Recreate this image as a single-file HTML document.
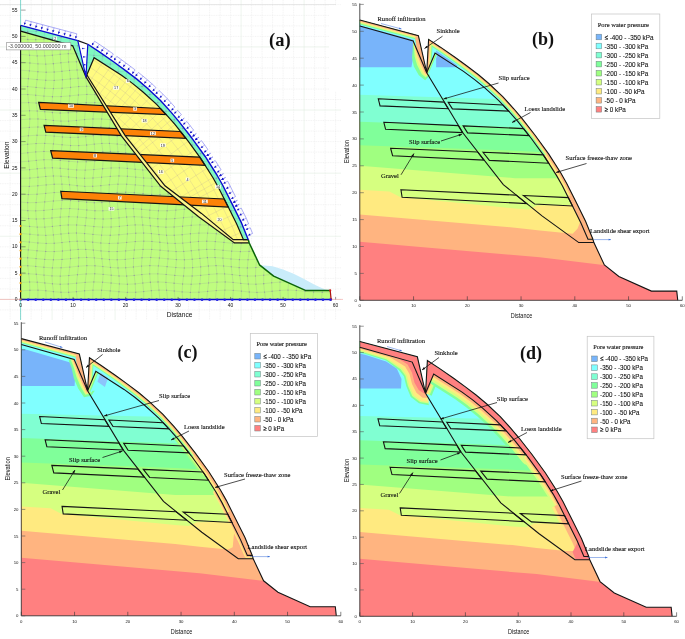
<!DOCTYPE html>
<html><head><meta charset="utf-8"><title>Slope model</title>
<style>html,body{margin:0;padding:0;background:#fff}svg{display:block;will-change:transform}</style></head>
<body><svg width="685" height="639" viewBox="0 0 685 639">
<rect width="685" height="639" fill="#fff"/>
<defs><filter id="gs" x="0" y="0" width="100%" height="100%" filterUnits="userSpaceOnUse"><feOffset dx="0" dy="0"/></filter></defs>
<g filter="url(#gs)">
<g id="pa">
<g stroke="#e7e7e7" stroke-width="0.5" stroke-dasharray="1 0.7">
<path d="M10.10 0 V320"/>
<path d="M20.60 0 V320"/>
<path d="M31.10 0 V320"/>
<path d="M41.60 0 V320"/>
<path d="M62.60 0 V320"/>
<path d="M73.10 0 V320"/>
<path d="M83.60 0 V320"/>
<path d="M94.10 0 V320"/>
<path d="M104.60 0 V320"/>
<path d="M125.60 0 V320"/>
<path d="M136.10 0 V320"/>
<path d="M146.60 0 V320"/>
<path d="M157.10 0 V320"/>
<path d="M167.60 0 V320"/>
<path d="M188.60 0 V320"/>
<path d="M199.10 0 V320"/>
<path d="M209.60 0 V320"/>
<path d="M220.10 0 V320"/>
<path d="M230.60 0 V320"/>
<path d="M251.60 0 V320"/>
<path d="M262.10 0 V320"/>
<path d="M272.60 0 V320"/>
<path d="M283.10 0 V320"/>
<path d="M293.60 0 V320"/>
<path d="M314.60 0 V320"/>
<path d="M325.10 0 V320"/>
<path d="M335.60 0 V320"/>
<path d="M0 309.92 H341"/>
<path d="M0 288.88 H341"/>
<path d="M0 278.36 H341"/>
<path d="M0 267.84 H341"/>
<path d="M0 257.32 H341"/>
<path d="M0 246.80 H341"/>
<path d="M0 225.76 H341"/>
<path d="M0 215.24 H341"/>
<path d="M0 204.72 H341"/>
<path d="M0 194.20 H341"/>
<path d="M0 183.68 H341"/>
<path d="M0 162.64 H341"/>
<path d="M0 152.12 H341"/>
<path d="M0 141.60 H341"/>
<path d="M0 131.08 H341"/>
<path d="M0 120.56 H341"/>
<path d="M0 99.52 H341"/>
<path d="M0 89.00 H341"/>
<path d="M0 78.48 H341"/>
<path d="M0 67.96 H341"/>
<path d="M0 57.44 H341"/>
<path d="M0 36.40 H341"/>
<path d="M0 25.88 H341"/>
<path d="M0 15.36 H341"/>
<path d="M0 4.84 H341"/>
</g>
<g stroke="#e0ece0" stroke-width="0.6">
<path d="M52.10 0 V320"/>
<path d="M115.10 0 V320"/>
<path d="M178.10 0 V320"/>
<path d="M241.10 0 V320"/>
<path d="M304.10 0 V320"/>
<path d="M0 299.40 H341"/>
<path d="M0 236.28 H341"/>
<path d="M0 173.16 H341"/>
<path d="M0 110.04 H341"/>
<path d="M0 46.92 H341"/>
</g>
<path d="M0 4.6 H336" stroke="#d8d8d8" stroke-width="0.6"/>
<rect x="329" y="5.2" width="14" height="86" fill="#fff"/>
<clipPath id="csa"><path d="M20.60 25.35 L77.83 40.61 L85.96 76.90 L87.80 44.29 L99.35 51.92 L113.89 62.02 L125.60 70.59 L136.52 78.90 L146.60 87.42 L160.25 100.31 L171.01 112.14 L178.78 121.35 L192.01 138.29 L205.19 156.49 L216.95 175.00 L222.72 185.26 L232.07 203.88 L241.10 222.08 L248.29 239.70 L249.24 242.96 L259.48 264.79 L273.65 276.10 L305.41 290.41 L330.19 290.41 L331.14 299.40 L20.60 299.40 Z"/></clipPath>
<path d="M261.05 265.21 L272.60 266.26 L283.10 269.42 L293.60 273.63 L304.10 278.89 L314.60 284.67 L325.10 289.41 L330.19 290.41 L305.41 290.41 L273.65 276.10 L259.48 264.79 Z" fill="#c9ecfa"/>
<path d="M20.60 25.35 L77.83 40.61 L85.96 76.90 L87.80 44.29 L99.35 51.92 L113.89 62.02 L125.60 70.59 L136.52 78.90 L146.60 87.42 L160.25 100.31 L171.01 112.14 L178.78 121.35 L192.01 138.29 L205.19 156.49 L216.95 175.00 L222.72 185.26 L232.07 203.88 L241.10 222.08 L248.29 239.70 L249.24 242.96 L259.48 264.79 L273.65 276.10 L305.41 290.41 L330.19 290.41 L331.14 299.40 L20.60 299.40 Z" fill="#bffd7f"/>
<path d="M86.75 74.80 L125.34 135.81 L164.97 185.78 L201.46 213.40 L233.22 239.70 L243.46 239.70 L236.70 224.08 L227.75 206.04 L218.45 187.51 L212.83 177.52 L201.20 159.21 L188.15 141.20 L174.93 124.45 L167.14 115.57 L156.36 104.16 L142.73 91.73 L132.77 83.60 L121.89 75.58 L94.10 57.70 Z" fill="#fffb80"/>
<path d="M85.96 76.90 L121.40 135.81 L160.77 186.31 L198.57 216.82 L234.49 242.96 L249.24 242.96 L248.29 239.70 L233.22 239.70 L201.46 213.40 L164.97 185.78 L125.34 135.81 L86.75 74.80 Z" fill="#fdf78c"/>
<path d="M20.60 25.35 L77.83 40.61 L85.96 76.90 L72.73 45.87 L20.60 31.14 Z" fill="#80f8c0"/>
<path d="M85.96 76.90 L87.80 44.29 L99.35 51.92 L113.89 62.02 L125.60 70.59 L136.52 78.90 L146.60 87.42 L160.25 100.31 L171.01 112.14 L178.78 121.35 L192.01 138.29 L205.19 156.49 L216.95 175.00 L222.72 185.26 L232.07 203.88 L241.10 222.08 L248.29 239.70 L248.29 239.70 L243.46 239.70 L236.70 224.08 L227.75 206.04 L218.45 187.51 L212.83 177.52 L201.20 159.21 L188.15 141.20 L174.93 124.45 L167.14 115.57 L156.36 104.16 L142.73 91.73 L132.77 83.60 L121.89 75.58 L94.10 57.70 Z" fill="#80f8c0"/>
<path d="M77.83 40.61 L85.96 76.90 L87.80 44.29 Z" fill="#fff"/>
<marker id="nd" markerWidth="2" markerHeight="2" refX="1" refY="1" markerUnits="userSpaceOnUse"><circle cx="1" cy="1" r="0.7" fill="#7a60b0" fill-opacity="0.4"/></marker>
<g stroke="#8068b4" stroke-opacity="0.3" stroke-width="0.5" fill="none" clip-path="url(#csa)">
<path d="M20.60 299.40 L29.29 299.40 L37.85 299.40 L46.16 299.40 L54.20 299.40 L61.98 299.40 L69.59 299.40 L77.16 299.40 L84.83 299.40 L92.71 299.40 L100.87 299.40 L109.30 299.40 L117.93 299.40 L126.64 299.40 L135.28 299.40 L143.75 299.40 L151.94 299.40 L159.86 299.40 L167.55 299.40 L175.13 299.40 L182.72 299.40 L190.47 299.40 L198.47 299.40 L206.75 299.40 L215.28 299.40 L223.96 299.40 L232.66 299.40 L241.24 299.40 L249.59 299.40 L257.67 299.40 L265.48 299.40 L273.10 299.40 L280.67 299.40 L288.32 299.40 L296.16 299.40 L304.29 299.40 L312.68 299.40 L321.29 299.40 L330.00 299.40 L337.96 299.40" marker-mid="url(#nd)"/>
<path d="M20.60 290.91 L29.88 290.22 L37.97 290.15 L45.79 290.75 L53.43 291.65 L60.99 292.31 L68.63 292.32 L76.46 291.68 L84.57 290.78 L92.94 290.16 L101.54 290.20 L110.25 290.88 L118.92 291.78 L127.43 292.35 L135.68 292.26 L143.65 291.55 L151.38 290.66 L158.97 290.12 L166.55 290.27 L174.26 291.01 L182.20 291.89 L190.43 292.39 L198.91 292.19 L207.57 291.42 L216.28 290.55 L224.89 290.10 L233.30 290.35 L241.43 291.14 L249.28 292.00 L256.94 292.40 L264.50 292.10 L272.13 291.28 L279.93 290.44 L287.99 290.09 L296.34 290.44 L304.91 291.28 L313.61 292.10 L322.29 292.40 L330.83 292.01 L337.96 291.15" marker-mid="url(#nd)"/>
<path d="M20.60 282.44 L29.60 281.95 L37.26 282.16 L44.83 282.93 L52.44 283.80 L60.23 284.24 L68.27 283.99 L76.60 283.19 L85.16 282.33 L93.86 281.94 L102.55 282.24 L111.09 283.07 L119.40 283.90 L127.43 284.25 L135.20 283.90 L142.81 283.06 L150.38 282.24 L158.05 281.94 L165.94 282.34 L174.11 283.20 L182.55 283.99 L191.18 284.24 L199.89 283.79 L208.54 282.92 L216.99 282.15 L225.18 281.96 L233.09 282.45 L240.77 283.33 L248.34 284.07 L255.94 284.22 L263.70 283.68 L271.71 282.79 L280.00 282.08 L288.53 281.99 L297.22 282.57 L305.92 283.46 L314.49 284.14 L322.83 284.18 L330.90 283.56 L337.96 282.66" marker-mid="url(#nd)"/>
<path d="M20.60 274.03 L28.67 273.79 L36.26 274.25 L44.01 275.12 L52.00 275.89 L60.27 276.08 L68.79 275.58 L77.47 274.69 L86.17 273.96 L94.75 273.82 L103.12 274.36 L111.20 275.26 L119.02 275.96 L126.64 276.04 L134.21 275.46 L141.85 274.56 L149.70 273.89 L157.81 273.86 L166.19 274.48 L174.80 275.38 L183.50 276.02 L192.17 276.00 L200.67 275.34 L208.92 274.44 L216.88 273.84 L224.60 273.91 L232.18 274.61 L239.77 275.50 L247.48 276.06 L255.44 275.93 L263.67 275.21 L272.16 274.32 L280.83 273.81 L289.53 273.98 L298.14 274.74 L306.54 275.62 L314.66 276.09 L322.51 275.86 L330.16 275.07 L337.96 274.21" marker-mid="url(#nd)"/>
<path d="M20.60 265.71 L27.79 265.74 L35.73 266.40 L43.94 267.30 L52.42 267.89 L61.08 267.81 L69.78 267.11 L78.40 266.22 L86.82 265.67 L94.96 265.80 L102.82 266.53 L110.48 267.42 L118.05 267.92 L125.67 267.74 L133.46 266.98 L141.51 266.10 L149.85 265.64 L158.42 265.88 L167.11 266.66 L175.80 267.53 L184.34 267.94 L192.64 267.66 L200.66 266.85 L208.42 266.00 L216.02 265.63 L223.60 265.97 L231.28 266.80 L239.18 267.63 L247.35 267.94 L255.80 267.56 L264.44 266.71 L273.15 265.91 L281.79 265.64 L290.23 266.07 L298.41 266.93 L306.31 267.71 L313.99 267.93 L321.56 267.46 L329.16 266.58 L337.96 265.82" marker-mid="url(#nd)"/>
<path d="M20.60 257.48 L27.63 257.77 L36.06 258.59 L44.69 259.43 L53.40 259.79 L62.05 259.45 L70.51 258.62 L78.71 257.79 L86.62 257.48 L94.31 257.87 L101.89 258.72 L109.48 259.52 L117.23 259.79 L125.23 259.35 L133.51 258.48 L142.04 257.70 L150.72 257.49 L159.42 257.97 L168.00 258.86 L176.36 259.60 L184.43 259.76 L192.24 259.24 L199.86 258.35 L207.43 257.63 L215.08 257.52 L222.93 258.09 L231.05 258.99 L239.45 259.67 L248.05 259.73 L256.76 259.12 L265.42 258.22 L273.92 257.57 L282.15 257.57 L290.10 258.21 L297.82 259.11 L305.40 259.72 L312.99 259.67 L320.71 258.99 L328.67 258.10 L337.96 257.53" marker-mid="url(#nd)"/>
<path d="M20.60 249.36 L28.31 249.89 L37.01 250.78 L45.68 251.49 L54.19 251.59 L62.44 251.02 L70.41 250.12 L78.14 249.44 L85.73 249.39 L93.31 250.01 L101.02 250.91 L108.96 251.55 L117.19 251.55 L125.67 250.90 L134.33 250.00 L143.04 249.39 L151.66 249.45 L160.06 250.13 L168.19 251.03 L176.05 251.59 L183.70 251.49 L191.27 250.77 L198.89 249.88 L206.69 249.35 L214.75 249.51 L223.10 250.26 L231.67 251.14 L240.37 251.62 L249.05 251.41 L257.59 250.64 L265.88 249.77 L273.89 249.33 L281.64 249.59 L289.24 250.40 L296.82 251.25 L304.50 251.64 L312.41 251.32 L320.60 250.50 L329.05 249.66 L337.96 249.32" marker-mid="url(#nd)"/>
<path d="M20.60 241.33 L29.31 242.05 L37.86 242.94 L46.17 243.46 L54.19 243.29 L61.96 242.54 L69.57 241.66 L77.14 241.19 L84.81 241.40 L92.70 242.18 L100.87 243.05 L109.31 243.48 L117.95 243.21 L126.65 242.41 L135.30 241.55 L143.75 241.17 L151.94 241.49 L159.85 242.32 L167.53 243.15 L175.11 243.49 L182.71 243.12 L190.46 242.27 L198.47 241.46 L206.76 241.18 L215.30 241.59 L223.98 242.45 L232.68 243.24 L241.25 243.48 L249.60 243.01 L257.66 242.14 L265.46 241.38 L273.08 241.19 L280.65 241.70 L288.30 242.59 L296.16 243.32 L304.29 243.45 L312.70 242.90 L321.31 242.00 L330.02 241.31 L337.96 241.23" marker-mid="url(#nd)"/>
<path d="M20.60 233.39 L29.88 234.24 L37.96 235.05 L45.78 235.33 L53.41 234.91 L60.97 234.04 L68.62 233.26 L76.46 233.03 L84.57 233.50 L92.96 234.38 L101.56 235.13 L110.27 235.31 L118.93 234.80 L127.43 233.91 L135.68 233.18 L143.64 233.06 L151.36 233.61 L158.95 234.51 L166.53 235.20 L174.25 235.27 L182.20 234.68 L190.43 233.78 L198.93 233.12 L207.59 233.10 L216.30 233.73 L224.91 234.64 L233.30 235.26 L241.42 235.22 L249.27 234.55 L256.92 233.65 L264.49 233.07 L272.11 233.16 L279.92 233.86 L287.99 234.76 L296.35 235.30 L304.93 235.16 L313.63 234.42 L322.31 233.54 L330.84 233.04 L337.96 233.23" marker-mid="url(#nd)"/>
<path d="M20.60 225.53 L29.59 226.43 L37.24 227.08 L44.81 227.09 L52.43 226.46 L60.22 225.55 L68.28 224.94 L76.61 224.98 L85.18 225.65 L93.88 226.55 L102.56 227.13 L111.10 227.04 L119.40 226.33 L127.42 225.43 L135.18 224.90 L142.79 225.04 L150.36 225.78 L158.04 226.67 L165.94 227.16 L174.12 226.96 L182.56 226.20 L191.20 225.32 L199.91 224.87 L208.55 225.12 L217.00 225.92 L225.17 226.78 L233.07 227.18 L240.75 226.88 L248.32 226.06 L255.93 225.22 L263.69 224.87 L271.71 225.21 L280.01 226.05 L288.55 226.87 L297.24 227.18 L305.93 226.78 L314.50 225.93 L322.84 225.13 L330.89 224.87 L337.96 225.32" marker-mid="url(#nd)"/>
<path d="M20.60 217.71 L28.65 218.58 L36.25 219.02 L44.00 218.76 L52.00 217.97 L60.28 217.11 L68.81 216.71 L77.49 217.02 L86.19 217.84 L94.77 218.68 L103.12 219.03 L111.19 218.67 L119.00 217.83 L126.63 217.01 L134.19 216.72 L141.84 217.12 L149.69 217.98 L157.81 218.77 L166.21 219.02 L174.82 218.57 L183.52 217.70 L192.19 216.93 L200.68 216.73 L208.91 217.23 L216.87 218.11 L224.58 218.85 L232.16 218.99 L239.75 218.46 L247.47 217.56 L255.43 216.86 L263.68 216.76 L272.18 217.34 L280.85 218.24 L289.55 218.91 L298.16 218.96 L306.54 218.34 L314.65 217.44 L322.50 216.80 L330.14 216.81 L337.96 217.47" marker-mid="url(#nd)"/>
<path d="M20.60 209.90 L27.78 210.66 L35.73 210.85 L43.95 210.35 L52.44 209.47 L61.10 208.73 L69.80 208.59 L78.42 209.14 L86.82 210.03 L94.95 210.73 L102.81 210.82 L110.46 210.24 L118.03 209.34 L125.65 208.67 L133.45 208.64 L141.52 209.26 L149.86 210.16 L158.44 210.79 L167.13 210.77 L175.82 210.11 L184.35 209.21 L192.64 208.62 L200.65 208.69 L208.41 209.38 L216.01 210.28 L223.58 210.83 L231.26 210.71 L239.17 209.98 L247.36 209.10 L255.81 208.58 L264.46 208.76 L273.17 209.52 L281.80 210.39 L290.24 210.86 L298.41 210.63 L306.30 209.85 L313.97 208.99 L321.54 208.56 L329.15 208.84 L337.96 209.65" marker-mid="url(#nd)"/>
<path d="M20.60 202.08 L27.64 202.67 L36.07 202.59 L44.71 201.89 L53.42 200.99 L62.06 200.44 L70.51 200.58 L78.70 201.31 L86.61 202.19 L94.30 202.70 L101.87 202.52 L109.47 201.76 L117.22 200.88 L125.23 200.42 L133.52 200.65 L142.06 201.44 L150.74 202.30 L159.44 202.72 L168.01 202.43 L176.36 201.62 L184.42 200.77 L192.22 200.41 L199.84 200.74 L207.41 201.57 L215.06 202.40 L222.92 202.72 L231.05 202.34 L239.46 201.49 L248.07 200.68 L256.78 200.41 L265.44 200.84 L273.92 201.71 L282.15 202.49 L290.09 202.71 L297.80 202.23 L305.38 201.35 L312.97 200.60 L320.70 200.43 L328.67 200.95 L337.96 201.84" marker-mid="url(#nd)"/>
<path d="M20.60 194.21 L28.32 194.57 L37.03 194.23 L45.70 193.39 L54.20 192.57 L62.44 192.26 L70.40 192.64 L78.12 193.50 L85.71 194.30 L93.29 194.56 L101.01 194.13 L108.96 193.26 L117.20 192.48 L125.69 192.27 L134.35 192.75 L143.06 193.63 L151.67 194.38 L160.06 194.54 L168.19 194.02 L176.03 193.12 L183.68 192.41 L191.25 192.30 L198.87 192.87 L206.68 193.76 L214.76 194.45 L223.11 194.50 L231.69 193.90 L240.39 193.00 L249.07 192.35 L257.60 192.34 L265.88 192.99 L273.88 193.89 L281.63 194.50 L289.22 194.45 L296.80 193.77 L304.49 192.87 L312.41 192.30 L320.60 192.40 L329.07 193.12 L337.96 194.01" marker-mid="url(#nd)"/>
<path d="M20.60 186.27 L29.33 186.37 L37.87 185.80 L46.17 184.90 L54.18 184.22 L61.95 184.17 L69.55 184.78 L77.12 185.68 L84.80 186.33 L92.70 186.32 L100.88 185.67 L109.33 184.77 L117.96 184.17 L126.67 184.22 L135.31 184.91 L143.76 185.80 L151.94 186.37 L159.84 186.26 L167.52 185.54 L175.09 184.65 L182.69 184.13 L190.45 184.29 L198.47 185.04 L206.77 185.92 L215.31 186.40 L224.00 186.19 L232.70 185.41 L241.26 184.54 L249.60 184.11 L257.65 184.37 L265.45 185.17 L273.06 186.03 L280.63 186.41 L288.29 186.10 L296.15 185.28 L304.29 184.44 L312.71 184.10 L321.33 184.46 L330.04 185.31 L337.96 186.12" marker-mid="url(#nd)"/>
<path d="M20.60 178.24 L29.88 178.07 L37.95 177.32 L45.76 176.44 L53.39 175.96 L60.95 176.18 L68.60 176.96 L76.45 177.83 L84.57 178.26 L92.97 177.99 L101.58 177.18 L110.29 176.33 L118.95 175.95 L127.44 176.27 L135.68 177.10 L143.63 177.93 L151.34 178.26 L158.93 177.89 L166.51 177.05 L174.24 176.24 L182.20 175.95 L190.44 176.37 L198.94 177.23 L207.61 178.02 L216.31 178.25 L224.92 177.79 L233.31 176.91 L241.42 176.15 L249.26 175.97 L256.90 176.48 L264.47 177.36 L272.10 178.09 L279.91 178.22 L288.00 177.68 L296.36 176.78 L304.95 176.08 L313.65 176.00 L322.32 176.59 L330.85 177.49 L337.96 178.16" marker-mid="url(#nd)"/>
<path d="M20.60 170.10 L29.57 169.68 L37.23 168.82 L44.79 168.03 L52.41 167.81 L60.21 168.28 L68.28 169.15 L76.62 169.91 L85.20 170.09 L93.90 169.57 L102.58 168.68 L111.11 167.96 L119.40 167.83 L127.41 168.39 L135.17 169.29 L142.77 169.98 L150.34 170.05 L158.03 169.45 L165.94 168.55 L174.12 167.90 L182.58 167.88 L191.22 168.51 L199.93 169.41 L208.56 170.03 L217.00 170.00 L225.17 169.33 L233.06 168.43 L240.73 167.85 L248.31 167.93 L255.91 168.64 L263.68 169.53 L271.71 170.07 L280.02 169.94 L288.57 169.20 L297.26 168.31 L305.95 167.81 L314.51 168.01 L322.84 168.77 L330.88 169.65 L337.96 170.10" marker-mid="url(#nd)"/>
<path d="M20.60 161.87 L28.63 161.23 L36.23 160.33 L43.99 159.71 L52.00 159.76 L60.29 160.43 L68.82 161.33 L77.51 161.91 L86.20 161.81 L94.78 161.10 L103.12 160.21 L111.19 159.67 L118.99 159.82 L126.61 160.56 L134.17 161.44 L141.83 161.94 L149.68 161.74 L157.82 160.97 L166.22 160.10 L174.84 159.65 L183.54 159.90 L192.20 160.69 L200.69 161.55 L208.91 161.95 L216.86 161.66 L224.57 160.84 L232.15 160.00 L239.73 159.64 L247.46 159.99 L255.43 160.83 L263.69 161.65 L272.20 161.95 L280.87 161.56 L289.57 160.70 L298.17 159.90 L306.55 159.65 L314.65 160.09 L322.48 160.96 L330.12 161.74 L337.96 161.94" marker-mid="url(#nd)"/>
<path d="M20.60 153.54 L27.77 152.74 L35.72 151.89 L43.96 151.49 L52.45 151.80 L61.12 152.62 L69.82 153.46 L78.43 153.80 L86.83 153.45 L94.95 152.61 L102.80 151.79 L110.44 151.49 L118.01 151.89 L125.64 152.75 L133.44 153.55 L141.52 153.79 L149.87 153.35 L158.45 152.47 L167.15 151.70 L175.83 151.51 L184.36 152.00 L192.64 152.89 L200.64 153.63 L208.39 153.77 L215.99 153.23 L223.56 152.34 L231.25 151.63 L239.17 151.54 L247.37 152.12 L255.83 153.02 L264.48 153.69 L273.19 153.73 L281.82 153.11 L290.25 152.21 L298.40 151.57 L306.29 151.59 L313.95 152.24 L321.52 153.14 L329.13 153.74 L337.96 153.68" marker-mid="url(#nd)"/>
<path d="M20.60 145.13 L27.64 144.24 L36.09 143.51 L44.73 143.37 L53.44 143.91 L62.08 144.81 L70.52 145.51 L78.70 145.60 L86.60 145.01 L94.28 144.11 L101.85 143.44 L109.45 143.41 L117.22 144.03 L125.23 144.94 L133.53 145.57 L142.08 145.55 L150.76 144.89 L159.46 143.99 L168.03 143.39 L176.36 143.47 L184.42 144.16 L192.21 145.06 L199.83 145.61 L207.39 145.49 L215.05 144.76 L222.92 143.87 L231.06 143.36 L239.47 143.54 L248.09 144.29 L256.80 145.17 L265.45 145.64 L273.93 145.41 L282.15 144.63 L290.08 143.76 L297.79 143.34 L305.36 143.62 L312.95 144.43 L320.69 145.28 L328.67 145.65 L337.96 145.32" marker-mid="url(#nd)"/>
<path d="M20.60 136.66 L28.34 135.77 L37.05 135.22 L45.71 135.35 L54.20 136.08 L62.44 136.97 L70.39 137.48 L78.11 137.29 L85.69 136.53 L93.27 135.65 L101.00 135.19 L108.96 135.43 L117.20 136.22 L125.70 137.08 L134.37 137.49 L143.08 137.21 L151.68 136.40 L160.07 135.55 L168.18 135.18 L176.02 135.52 L183.66 136.35 L191.23 137.18 L198.86 137.50 L206.68 137.11 L214.76 136.26 L223.12 135.46 L231.71 135.19 L240.41 135.62 L249.09 136.49 L257.61 137.26 L265.88 137.48 L273.87 137.01 L281.61 136.13 L289.20 135.38 L296.78 135.21 L304.48 135.73 L312.40 136.62 L320.61 137.34 L329.08 137.45 L337.96 136.89" marker-mid="url(#nd)"/>
<path d="M20.60 128.17 L29.34 127.34 L37.88 127.03 L46.17 127.42 L54.17 128.27 L61.93 129.08 L69.53 129.34 L77.10 128.90 L84.79 128.03 L92.70 127.26 L100.89 127.05 L109.34 127.53 L117.98 128.41 L126.69 129.16 L135.33 129.32 L143.76 128.79 L151.93 127.90 L159.82 127.18 L167.50 127.07 L175.07 127.64 L182.67 128.54 L190.45 129.22 L198.47 129.28 L206.78 128.67 L215.33 127.77 L224.02 127.12 L232.71 127.12 L241.27 127.76 L249.60 128.66 L257.65 129.28 L265.43 129.23 L273.04 128.55 L280.61 127.65 L288.28 127.08 L296.15 127.18 L304.30 127.89 L312.72 128.78 L321.35 129.31 L330.06 129.16 L337.96 128.42" marker-mid="url(#nd)"/>
<path d="M20.60 119.67 L29.88 118.99 L37.95 118.95 L45.75 119.56 L53.37 120.46 L60.94 121.10 L68.59 121.10 L76.45 120.45 L84.58 119.55 L92.98 118.94 L101.60 119.00 L110.30 119.68 L118.96 120.58 L127.45 121.15 L135.67 121.04 L143.62 120.32 L151.33 119.43 L158.91 118.90 L166.50 119.07 L174.22 119.81 L182.20 120.70 L190.45 121.18 L198.96 120.96 L207.63 120.19 L216.33 119.32 L224.93 118.88 L233.31 119.15 L241.41 119.95 L249.24 120.80 L256.88 121.19 L264.45 120.88 L272.08 120.05 L279.91 119.22 L288.00 118.88 L296.37 119.24 L304.96 120.08 L313.67 120.90 L322.34 121.19 L330.85 120.78 L337.96 119.92" marker-mid="url(#nd)"/>
<path d="M20.60 111.21 L29.56 110.74 L37.21 110.96 L44.77 111.74 L52.40 112.60 L60.21 113.03 L68.28 112.76 L76.63 111.96 L85.22 111.11 L93.92 110.72 L102.60 111.04 L111.12 111.87 L119.40 112.70 L127.40 113.04 L135.15 112.67 L142.75 111.82 L150.32 111.01 L158.01 110.73 L165.93 111.14 L174.13 112.01 L182.59 112.79 L191.24 113.03 L199.95 112.57 L208.58 111.69 L217.01 110.93 L225.17 110.75 L233.05 111.25 L240.72 112.14 L248.29 112.87 L255.90 113.00 L263.67 112.45 L271.71 111.56 L280.03 110.86 L288.58 110.78 L297.28 111.37 L305.97 112.27 L314.52 112.93 L322.84 112.96 L330.87 112.33 L337.96 111.43" marker-mid="url(#nd)"/>
<path d="M20.60 102.81 L28.61 102.58 L36.21 103.05 L43.98 103.93 L52.00 104.69 L60.30 104.86 L68.84 104.35 L77.52 103.46 L86.22 102.73 L94.79 102.61 L103.12 103.17 L111.18 104.06 L118.97 104.76 L126.59 104.83 L134.16 104.23 L141.81 103.33 L149.68 102.67 L157.82 102.65 L166.23 103.29 L174.85 104.19 L183.56 104.81 L192.22 104.78 L200.69 104.11 L208.91 103.21 L216.84 102.62 L224.55 102.71 L232.13 103.41 L239.72 104.31 L247.45 104.85 L255.43 104.71 L263.70 103.98 L272.21 103.09 L280.89 102.59 L289.59 102.78 L298.18 103.55 L306.55 104.42 L314.64 104.88 L322.47 104.63 L330.10 103.84 L337.96 102.98" marker-mid="url(#nd)"/>
<path d="M20.60 94.49 L27.76 94.53 L35.72 95.21 L43.97 96.10 L52.47 96.68 L61.13 96.59 L69.84 95.88 L78.44 94.99 L86.83 94.45 L94.94 94.60 L102.78 95.34 L110.43 96.22 L117.99 96.71 L125.62 96.52 L133.44 95.75 L141.52 94.87 L149.88 94.43 L158.47 94.67 L167.17 95.47 L175.85 96.33 L184.37 96.73 L192.64 96.43 L200.63 95.61 L208.37 94.77 L215.97 94.42 L223.54 94.77 L231.24 95.60 L239.17 96.43 L247.37 96.73 L255.84 96.33 L264.50 95.48 L273.20 94.68 L281.83 94.43 L290.25 94.87 L298.40 95.74 L306.27 96.51 L313.94 96.72 L321.50 96.23 L329.12 95.34 L337.96 94.60" marker-mid="url(#nd)"/>
<path d="M20.60 86.27 L27.65 86.57 L36.10 87.39 L44.75 88.23 L53.46 88.58 L62.09 88.22 L70.53 87.38 L78.70 86.57 L86.59 86.27 L94.26 86.67 L101.83 87.53 L109.44 88.32 L117.21 88.57 L125.23 88.12 L133.54 87.25 L142.09 86.48 L150.78 86.28 L159.48 86.78 L168.04 87.66 L176.36 88.40 L184.41 88.55 L192.19 88.01 L199.81 87.12 L207.37 86.41 L215.04 86.32 L222.91 86.89 L231.06 87.79 L239.48 88.47 L248.11 88.51 L256.82 87.89 L265.47 86.99 L273.94 86.35 L282.15 86.36 L290.07 87.02 L297.77 87.92 L305.34 88.52 L312.94 88.45 L320.68 87.76 L328.67 86.87 L337.96 86.31" marker-mid="url(#nd)"/>
<path d="M20.60 78.15 L28.36 78.69 L37.07 79.58 L45.73 80.29 L54.21 80.37 L62.44 79.79 L70.38 78.89 L78.09 78.22 L85.67 78.19 L93.26 78.81 L100.99 79.71 L108.96 80.34 L117.21 80.33 L125.72 79.67 L134.39 78.77 L143.10 78.17 L151.69 78.24 L160.07 78.94 L168.17 79.83 L176.01 80.39 L183.64 80.26 L191.21 79.54 L198.84 78.65 L206.67 78.14 L214.76 78.31 L223.13 79.07 L231.73 79.95 L240.43 80.41 L249.10 80.19 L257.62 79.40 L265.88 78.54 L273.86 78.12 L281.59 78.39 L289.18 79.20 L296.76 80.05 L304.47 80.43 L312.40 80.10 L320.62 79.27 L329.10 78.44 L337.96 78.11" marker-mid="url(#nd)"/>
<path d="M20.60 70.13 L29.36 70.86 L37.89 71.75 L46.17 72.25 L54.17 72.07 L61.91 71.31 L69.51 70.43 L77.09 69.97 L84.78 70.20 L92.69 70.99 L100.89 71.85 L109.35 72.27 L118.00 71.99 L126.71 71.17 L135.34 70.33 L143.77 69.96 L151.93 70.29 L159.81 71.13 L167.48 71.95 L175.05 72.27 L182.66 71.89 L190.44 71.04 L198.47 70.23 L206.79 69.96 L215.35 70.39 L224.04 71.26 L232.73 72.04 L241.28 72.26 L249.60 71.78 L257.64 70.90 L265.42 70.15 L273.02 69.99 L280.59 70.50 L288.26 71.39 L296.15 72.12 L304.31 72.23 L312.74 71.67 L321.37 70.77 L330.07 70.08 L337.96 70.02" marker-mid="url(#nd)"/>
<path d="M20.60 62.20 L29.89 63.05 L37.94 63.85 L45.73 64.11 L53.35 63.68 L60.92 62.81 L68.58 62.03 L76.44 61.82 L84.58 62.30 L93.00 63.18 L101.62 63.93 L110.32 64.09 L118.98 63.57 L127.46 62.68 L135.67 61.96 L143.61 61.85 L151.31 62.42 L158.89 63.31 L166.48 64.00 L174.21 64.05 L182.20 63.45 L190.46 62.55 L198.97 61.90 L207.65 61.90 L216.35 62.54 L224.94 63.44 L233.31 64.05 L241.41 64.00 L249.23 63.32 L256.86 62.42 L264.43 61.85 L272.07 61.95 L279.90 62.67 L288.00 63.56 L296.38 64.09 L304.98 63.94 L313.69 63.19 L322.36 62.31 L330.86 61.82 L337.96 62.03" marker-mid="url(#nd)"/>
<path d="M20.60 54.33 L29.55 55.23 L37.19 55.88 L44.75 55.87 L52.38 55.22 L60.20 54.32 L68.28 53.72 L76.65 53.77 L85.23 54.46 L93.93 55.36 L102.61 55.92 L111.13 55.81 L119.40 55.10 L127.39 54.20 L135.14 53.68 L142.73 53.84 L150.31 54.59 L158.00 55.47 L165.93 55.95 L174.14 55.74 L182.61 54.96 L191.26 54.09 L199.97 53.66 L208.59 53.92 L217.01 54.72 L225.16 55.58 L233.04 55.97 L240.70 55.65 L248.27 54.83 L255.88 53.99 L263.67 53.65 L271.71 54.01 L280.04 54.86 L288.60 55.67 L297.30 55.96 L305.98 55.55 L314.53 54.69 L322.84 53.90 L330.87 53.66 L337.96 54.12" marker-mid="url(#nd)"/>
<path d="M20.60 46.51 L28.59 47.38 L36.20 47.81 L43.97 47.54 L52.00 46.73 L60.31 45.88 L68.86 45.50 L77.54 45.82 L86.24 46.65 L94.80 47.48 L103.13 47.81 L111.17 47.45 L118.96 46.60 L126.57 45.79 L134.14 45.50 L141.80 45.92 L149.67 46.78 L157.82 47.57 L166.25 47.80 L174.87 47.34 L183.58 46.46 L192.23 45.70 L200.70 45.52 L208.91 46.03 L216.83 46.92 L224.53 47.65 L232.11 47.78 L239.70 47.23 L247.44 46.33 L255.43 45.63 L263.71 45.56 L272.23 46.15 L280.91 47.05 L289.61 47.71 L298.19 47.74 L306.55 47.11 L314.64 46.21 L322.45 45.58 L330.08 45.61 L337.96 46.27" marker-mid="url(#nd)"/>
<path d="M20.60 38.71 L27.75 39.46 L35.72 39.64 L43.97 39.12 L52.48 38.24 L61.15 37.51 L69.86 37.39 L78.46 37.94 L86.83 38.84 L94.94 39.53 L102.77 39.60 L110.41 39.01 L117.97 38.11 L125.61 37.45 L133.43 37.43 L141.52 38.06 L149.90 38.96 L158.49 39.59 L167.19 39.55 L175.87 38.88 L184.38 37.98 L192.64 37.40 L200.62 37.49 L208.36 38.19 L215.95 39.08 L223.53 39.63 L231.23 39.49 L239.16 38.75 L247.38 37.87 L255.86 37.37 L264.52 37.56 L273.22 38.32 L281.84 39.20 L290.26 39.65 L298.39 39.41 L306.26 38.62 L313.92 37.76 L321.49 37.35 L329.10 37.64 L337.96 38.46" marker-mid="url(#nd)"/>
<path d="M20.60 30.88 L27.65 31.46 L36.12 31.36 L44.77 30.66 L53.47 29.76 L62.10 29.23 L70.53 29.37 L78.69 30.11 L86.57 31.00 L94.24 31.49 L101.81 31.29 L109.42 30.52 L117.20 29.65 L125.24 29.20 L133.55 29.45 L142.11 30.25 L150.80 31.10 L159.49 31.51 L168.05 31.21 L176.36 30.39 L184.40 29.55 L192.18 29.19 L199.79 29.54 L207.36 30.38 L215.03 31.20 L222.91 31.51 L231.07 31.11 L239.50 30.25 L248.13 29.46 L256.84 29.20 L265.48 29.64 L273.95 30.52 L282.14 31.29 L290.06 31.49 L297.75 31.00 L305.32 30.12 L312.92 29.38 L320.67 29.22 L328.67 29.76 L337.96 30.65" marker-mid="url(#nd)"/>
<path d="M20.60 23.01 L28.38 23.36 L37.09 23.00 L45.74 22.16 L54.22 21.34 L62.44 21.04 L70.37 21.45 L78.07 22.30 L85.65 23.10 L93.24 23.35 L100.98 22.90 L108.96 22.02 L117.22 21.26 L125.74 21.06 L134.41 21.55 L143.11 22.44 L151.71 23.18 L160.08 23.32 L168.17 22.79 L175.99 21.89 L183.63 21.18 L191.19 21.09 L198.83 21.67 L206.66 22.57 L214.77 23.24 L223.15 23.28 L231.74 22.67 L240.45 21.76 L249.12 21.13 L257.63 21.14 L265.88 21.79 L273.85 22.69 L281.58 23.29 L289.17 23.23 L296.75 22.54 L304.46 21.64 L312.40 21.08 L320.63 21.20 L329.11 21.92 L337.96 22.81" marker-mid="url(#nd)"/>
<path d="M20.60 15.06 L29.37 15.15 L37.90 14.57 L46.17 13.67 L54.16 13.00 L61.90 12.96 L69.49 13.59 L77.07 14.49 L84.77 15.12 L92.69 15.10 L100.90 14.44 L109.37 13.54 L118.02 12.95 L126.73 13.02 L135.35 13.71 L143.78 14.61 L151.92 15.16 L159.80 15.04 L167.46 14.31 L175.03 13.42 L182.64 12.91 L190.43 13.09 L198.47 13.84 L206.80 14.72 L215.36 15.19 L224.06 14.96 L232.75 14.18 L241.30 13.31 L249.60 12.89 L257.63 13.17 L265.40 13.98 L273.01 14.83 L280.58 15.20 L288.25 14.87 L296.14 14.04 L304.31 13.21 L312.75 12.89 L321.38 13.26 L330.09 14.11 L337.96 14.92" marker-mid="url(#nd)"/>
<path d="M20.60 299.40 L20.60 290.91 L20.60 282.44 L20.60 274.03 L20.60 265.71 L20.60 257.48 L20.60 249.36 L20.60 241.33 L20.60 233.39 L20.60 225.53 L20.60 217.71 L20.60 209.90 L20.60 202.08 L20.60 194.21 L20.60 186.27 L20.60 178.24 L20.60 170.10 L20.60 161.87 L20.60 153.54 L20.60 145.13 L20.60 136.66 L20.60 128.17 L20.60 119.67 L20.60 111.21 L20.60 102.81 L20.60 94.49 L20.60 86.27 L20.60 78.15 L20.60 70.13 L20.60 62.20 L20.60 54.33 L20.60 46.51 L20.60 38.71 L20.60 30.88 L20.60 23.01 L20.60 15.06"/>
<path d="M29.29 299.40 L29.88 290.22 L29.60 281.95 L28.67 273.79 L27.79 265.74 L27.63 257.77 L28.31 249.89 L29.31 242.05 L29.88 234.24 L29.59 226.43 L28.65 218.58 L27.78 210.66 L27.64 202.67 L28.32 194.57 L29.33 186.37 L29.88 178.07 L29.57 169.68 L28.63 161.23 L27.77 152.74 L27.64 144.24 L28.34 135.77 L29.34 127.34 L29.88 118.99 L29.56 110.74 L28.61 102.58 L27.76 94.53 L27.65 86.57 L28.36 78.69 L29.36 70.86 L29.89 63.05 L29.55 55.23 L28.59 47.38 L27.75 39.46 L27.65 31.46 L28.38 23.36 L29.37 15.15"/>
<path d="M37.85 299.40 L37.97 290.15 L37.26 282.16 L36.26 274.25 L35.73 266.40 L36.06 258.59 L37.01 250.78 L37.86 242.94 L37.96 235.05 L37.24 227.08 L36.25 219.02 L35.73 210.85 L36.07 202.59 L37.03 194.23 L37.87 185.80 L37.95 177.32 L37.23 168.82 L36.23 160.33 L35.72 151.89 L36.09 143.51 L37.05 135.22 L37.88 127.03 L37.95 118.95 L37.21 110.96 L36.21 103.05 L35.72 95.21 L36.10 87.39 L37.07 79.58 L37.89 71.75 L37.94 63.85 L37.19 55.88 L36.20 47.81 L35.72 39.64 L36.12 31.36 L37.09 23.00 L37.90 14.57"/>
<path d="M46.16 299.40 L45.79 290.75 L44.83 282.93 L44.01 275.12 L43.94 267.30 L44.69 259.43 L45.68 251.49 L46.17 243.46 L45.78 235.33 L44.81 227.09 L44.00 218.76 L43.95 210.35 L44.71 201.89 L45.70 193.39 L46.17 184.90 L45.76 176.44 L44.79 168.03 L43.99 159.71 L43.96 151.49 L44.73 143.37 L45.71 135.35 L46.17 127.42 L45.75 119.56 L44.77 111.74 L43.98 103.93 L43.97 96.10 L44.75 88.23 L45.73 80.29 L46.17 72.25 L45.73 64.11 L44.75 55.87 L43.97 47.54 L43.97 39.12 L44.77 30.66 L45.74 22.16 L46.17 13.67"/>
<path d="M54.20 299.40 L53.43 291.65 L52.44 283.80 L52.00 275.89 L52.42 267.89 L53.40 259.79 L54.19 251.59 L54.19 243.29 L53.41 234.91 L52.43 226.46 L52.00 217.97 L52.44 209.47 L53.42 200.99 L54.20 192.57 L54.18 184.22 L53.39 175.96 L52.41 167.81 L52.00 159.76 L52.45 151.80 L53.44 143.91 L54.20 136.08 L54.17 128.27 L53.37 120.46 L52.40 112.60 L52.00 104.69 L52.47 96.68 L53.46 88.58 L54.21 80.37 L54.17 72.07 L53.35 63.68 L52.38 55.22 L52.00 46.73 L52.48 38.24 L53.47 29.76 L54.22 21.34 L54.16 13.00"/>
<path d="M61.98 299.40 L60.99 292.31 L60.23 284.24 L60.27 276.08 L61.08 267.81 L62.05 259.45 L62.44 251.02 L61.96 242.54 L60.97 234.04 L60.22 225.55 L60.28 217.11 L61.10 208.73 L62.06 200.44 L62.44 192.26 L61.95 184.17 L60.95 176.18 L60.21 168.28 L60.29 160.43 L61.12 152.62 L62.08 144.81 L62.44 136.97 L61.93 129.08 L60.94 121.10 L60.21 113.03 L60.30 104.86 L61.13 96.59 L62.09 88.22 L62.44 79.79 L61.91 71.31 L60.92 62.81 L60.20 54.32 L60.31 45.88 L61.15 37.51 L62.10 29.23 L62.44 21.04 L61.90 12.96"/>
<path d="M69.59 299.40 L68.63 292.32 L68.27 283.99 L68.79 275.58 L69.78 267.11 L70.51 258.62 L70.41 250.12 L69.57 241.66 L68.62 233.26 L68.28 224.94 L68.81 216.71 L69.80 208.59 L70.51 200.58 L70.40 192.64 L69.55 184.78 L68.60 176.96 L68.28 169.15 L68.82 161.33 L69.82 153.46 L70.52 145.51 L70.39 137.48 L69.53 129.34 L68.59 121.10 L68.28 112.76 L68.84 104.35 L69.84 95.88 L70.53 87.38 L70.38 78.89 L69.51 70.43 L68.58 62.03 L68.28 53.72 L68.86 45.50 L69.86 37.39 L70.53 29.37 L70.37 21.45 L69.49 13.59"/>
<path d="M77.16 299.40 L76.46 291.68 L76.60 283.19 L77.47 274.69 L78.40 266.22 L78.71 257.79 L78.14 249.44 L77.14 241.19 L76.46 233.03 L76.61 224.98 L77.49 217.02 L78.42 209.14 L78.70 201.31 L78.12 193.50 L77.12 185.68 L76.45 177.83 L76.62 169.91 L77.51 161.91 L78.43 153.80 L78.70 145.60 L78.11 137.29 L77.10 128.90 L76.45 120.45 L76.63 111.96 L77.52 103.46 L78.44 94.99 L78.70 86.57 L78.09 78.22 L77.09 69.97 L76.44 61.82 L76.65 53.77 L77.54 45.82 L78.46 37.94 L78.69 30.11 L78.07 22.30 L77.07 14.49"/>
<path d="M84.83 299.40 L84.57 290.78 L85.16 282.33 L86.17 273.96 L86.82 265.67 L86.62 257.48 L85.73 249.39 L84.81 241.40 L84.57 233.50 L85.18 225.65 L86.19 217.84 L86.82 210.03 L86.61 202.19 L85.71 194.30 L84.80 186.33 L84.57 178.26 L85.20 170.09 L86.20 161.81 L86.83 153.45 L86.60 145.01 L85.69 136.53 L84.79 128.03 L84.58 119.55 L85.22 111.11 L86.22 102.73 L86.83 94.45 L86.59 86.27 L85.67 78.19 L84.78 70.20 L84.58 62.30 L85.23 54.46 L86.24 46.65 L86.83 38.84 L86.57 31.00 L85.65 23.10 L84.77 15.12"/>
<path d="M92.71 299.40 L92.94 290.16 L93.86 281.94 L94.75 273.82 L94.96 265.80 L94.31 257.87 L93.31 250.01 L92.70 242.18 L92.96 234.38 L93.88 226.55 L94.77 218.68 L94.95 210.73 L94.30 202.70 L93.29 194.56 L92.70 186.32 L92.97 177.99 L93.90 169.57 L94.78 161.10 L94.95 152.61 L94.28 144.11 L93.27 135.65 L92.70 127.26 L92.98 118.94 L93.92 110.72 L94.79 102.61 L94.94 94.60 L94.26 86.67 L93.26 78.81 L92.69 70.99 L93.00 63.18 L93.93 55.36 L94.80 47.48 L94.94 39.53 L94.24 31.49 L93.24 23.35 L92.69 15.10"/>
<path d="M100.87 299.40 L101.54 290.20 L102.55 282.24 L103.12 274.36 L102.82 266.53 L101.89 258.72 L101.02 250.91 L100.87 243.05 L101.56 235.13 L102.56 227.13 L103.12 219.03 L102.81 210.82 L101.87 202.52 L101.01 194.13 L100.88 185.67 L101.58 177.18 L102.58 168.68 L103.12 160.21 L102.80 151.79 L101.85 143.44 L101.00 135.19 L100.89 127.05 L101.60 119.00 L102.60 111.04 L103.12 103.17 L102.78 95.34 L101.83 87.53 L100.99 79.71 L100.89 71.85 L101.62 63.93 L102.61 55.92 L103.13 47.81 L102.77 39.60 L101.81 31.29 L100.98 22.90 L100.90 14.44"/>
<path d="M109.30 299.40 L110.25 290.88 L111.09 283.07 L111.20 275.26 L110.48 267.42 L109.48 259.52 L108.96 251.55 L109.31 243.48 L110.27 235.31 L111.10 227.04 L111.19 218.67 L110.46 210.24 L109.47 201.76 L108.96 193.26 L109.33 184.77 L110.29 176.33 L111.11 167.96 L111.19 159.67 L110.44 151.49 L109.45 143.41 L108.96 135.43 L109.34 127.53 L110.30 119.68 L111.12 111.87 L111.18 104.06 L110.43 96.22 L109.44 88.32 L108.96 80.34 L109.35 72.27 L110.32 64.09 L111.13 55.81 L111.17 47.45 L110.41 39.01 L109.42 30.52 L108.96 22.02 L109.37 13.54"/>
<path d="M117.93 299.40 L118.92 291.78 L119.40 283.90 L119.02 275.96 L118.05 267.92 L117.23 259.79 L117.19 251.55 L117.95 243.21 L118.93 234.80 L119.40 226.33 L119.00 217.83 L118.03 209.34 L117.22 200.88 L117.20 192.48 L117.96 184.17 L118.95 175.95 L119.40 167.83 L118.99 159.82 L118.01 151.89 L117.22 144.03 L117.20 136.22 L117.98 128.41 L118.96 120.58 L119.40 112.70 L118.97 104.76 L117.99 96.71 L117.21 88.57 L117.21 80.33 L118.00 71.99 L118.98 63.57 L119.40 55.10 L118.96 46.60 L117.97 38.11 L117.20 29.65 L117.22 21.26 L118.02 12.95"/>
<path d="M126.64 299.40 L127.43 292.35 L127.43 284.25 L126.64 276.04 L125.67 267.74 L125.23 259.35 L125.67 250.90 L126.65 242.41 L127.43 233.91 L127.42 225.43 L126.63 217.01 L125.65 208.67 L125.23 200.42 L125.69 192.27 L126.67 184.22 L127.44 176.27 L127.41 168.39 L126.61 160.56 L125.64 152.75 L125.23 144.94 L125.70 137.08 L126.69 129.16 L127.45 121.15 L127.40 113.04 L126.59 104.83 L125.62 96.52 L125.23 88.12 L125.72 79.67 L126.71 71.17 L127.46 62.68 L127.39 54.20 L126.57 45.79 L125.61 37.45 L125.24 29.20 L125.74 21.06 L126.73 13.02"/>
<path d="M135.28 299.40 L135.68 292.26 L135.20 283.90 L134.21 275.46 L133.46 266.98 L133.51 258.48 L134.33 250.00 L135.30 241.55 L135.68 233.18 L135.18 224.90 L134.19 216.72 L133.45 208.64 L133.52 200.65 L134.35 192.75 L135.31 184.91 L135.68 177.10 L135.17 169.29 L134.17 161.44 L133.44 153.55 L133.53 145.57 L134.37 137.49 L135.33 129.32 L135.67 121.04 L135.15 112.67 L134.16 104.23 L133.44 95.75 L133.54 87.25 L134.39 78.77 L135.34 70.33 L135.67 61.96 L135.14 53.68 L134.14 45.50 L133.43 37.43 L133.55 29.45 L134.41 21.55 L135.35 13.71"/>
<path d="M143.75 299.40 L143.65 291.55 L142.81 283.06 L141.85 274.56 L141.51 266.10 L142.04 257.70 L143.04 249.39 L143.75 241.17 L143.64 233.06 L142.79 225.04 L141.84 217.12 L141.52 209.26 L142.06 201.44 L143.06 193.63 L143.76 185.80 L143.63 177.93 L142.77 169.98 L141.83 161.94 L141.52 153.79 L142.08 145.55 L143.08 137.21 L143.76 128.79 L143.62 120.32 L142.75 111.82 L141.81 103.33 L141.52 94.87 L142.09 86.48 L143.10 78.17 L143.77 69.96 L143.61 61.85 L142.73 53.84 L141.80 45.92 L141.52 38.06 L142.11 30.25 L143.11 22.44 L143.78 14.61"/>
<path d="M151.94 299.40 L151.38 290.66 L150.38 282.24 L149.70 273.89 L149.85 265.64 L150.72 257.49 L151.66 249.45 L151.94 241.49 L151.36 233.61 L150.36 225.78 L149.69 217.98 L149.86 210.16 L150.74 202.30 L151.67 194.38 L151.94 186.37 L151.34 178.26 L150.34 170.05 L149.68 161.74 L149.87 153.35 L150.76 144.89 L151.68 136.40 L151.93 127.90 L151.33 119.43 L150.32 111.01 L149.68 102.67 L149.88 94.43 L150.78 86.28 L151.69 78.24 L151.93 70.29 L151.31 62.42 L150.31 54.59 L149.67 46.78 L149.90 38.96 L150.80 31.10 L151.71 23.18 L151.92 15.16"/>
<path d="M159.86 299.40 L158.97 290.12 L158.05 281.94 L157.81 273.86 L158.42 265.88 L159.42 257.97 L160.06 250.13 L159.85 242.32 L158.95 234.51 L158.04 226.67 L157.81 218.77 L158.44 210.79 L159.44 202.72 L160.06 194.54 L159.84 186.26 L158.93 177.89 L158.03 169.45 L157.82 160.97 L158.45 152.47 L159.46 143.99 L160.07 135.55 L159.82 127.18 L158.91 118.90 L158.01 110.73 L157.82 102.65 L158.47 94.67 L159.48 86.78 L160.07 78.94 L159.81 71.13 L158.89 63.31 L158.00 55.47 L157.82 47.57 L158.49 39.59 L159.49 31.51 L160.08 23.32 L159.80 15.04"/>
<path d="M167.55 299.40 L166.55 290.27 L165.94 282.34 L166.19 274.48 L167.11 266.66 L168.00 258.86 L168.19 251.03 L167.53 243.15 L166.53 235.20 L165.94 227.16 L166.21 219.02 L167.13 210.77 L168.01 202.43 L168.19 194.02 L167.52 185.54 L166.51 177.05 L165.94 168.55 L166.22 160.10 L167.15 151.70 L168.03 143.39 L168.18 135.18 L167.50 127.07 L166.50 119.07 L165.93 111.14 L166.23 103.29 L167.17 95.47 L168.04 87.66 L168.17 79.83 L167.48 71.95 L166.48 64.00 L165.93 55.95 L166.25 47.80 L167.19 39.55 L168.05 31.21 L168.17 22.79 L167.46 14.31"/>
<path d="M175.13 299.40 L174.26 291.01 L174.11 283.20 L174.80 275.38 L175.80 267.53 L176.36 259.60 L176.05 251.59 L175.11 243.49 L174.25 235.27 L174.12 226.96 L174.82 218.57 L175.82 210.11 L176.36 201.62 L176.03 193.12 L175.09 184.65 L174.24 176.24 L174.12 167.90 L174.84 159.65 L175.83 151.51 L176.36 143.47 L176.02 135.52 L175.07 127.64 L174.22 119.81 L174.13 112.01 L174.85 104.19 L175.85 96.33 L176.36 88.40 L176.01 80.39 L175.05 72.27 L174.21 64.05 L174.14 55.74 L174.87 47.34 L175.87 38.88 L176.36 30.39 L175.99 21.89 L175.03 13.42"/>
<path d="M182.72 299.40 L182.20 291.89 L182.55 283.99 L183.50 276.02 L184.34 267.94 L184.43 259.76 L183.70 251.49 L182.71 243.12 L182.20 234.68 L182.56 226.20 L183.52 217.70 L184.35 209.21 L184.42 200.77 L183.68 192.41 L182.69 184.13 L182.20 175.95 L182.58 167.88 L183.54 159.90 L184.36 152.00 L184.42 144.16 L183.66 136.35 L182.67 128.54 L182.20 120.70 L182.59 112.79 L183.56 104.81 L184.37 96.73 L184.41 88.55 L183.64 80.26 L182.66 71.89 L182.20 63.45 L182.61 54.96 L183.58 46.46 L184.38 37.98 L184.40 29.55 L183.63 21.18 L182.64 12.91"/>
<path d="M190.47 299.40 L190.43 292.39 L191.18 284.24 L192.17 276.00 L192.64 267.66 L192.24 259.24 L191.27 250.77 L190.46 242.27 L190.43 233.78 L191.20 225.32 L192.19 216.93 L192.64 208.62 L192.22 200.41 L191.25 192.30 L190.45 184.29 L190.44 176.37 L191.22 168.51 L192.20 160.69 L192.64 152.89 L192.21 145.06 L191.23 137.18 L190.45 129.22 L190.45 121.18 L191.24 113.03 L192.22 104.78 L192.64 96.43 L192.19 88.01 L191.21 79.54 L190.44 71.04 L190.46 62.55 L191.26 54.09 L192.23 45.70 L192.64 37.40 L192.18 29.19 L191.19 21.09 L190.43 13.09"/>
<path d="M198.47 299.40 L198.91 292.19 L199.89 283.79 L200.67 275.34 L200.66 266.85 L199.86 258.35 L198.89 249.88 L198.47 241.46 L198.93 233.12 L199.91 224.87 L200.68 216.73 L200.65 208.69 L199.84 200.74 L198.87 192.87 L198.47 185.04 L198.94 177.23 L199.93 169.41 L200.69 161.55 L200.64 153.63 L199.83 145.61 L198.86 137.50 L198.47 129.28 L198.96 120.96 L199.95 112.57 L200.69 104.11 L200.63 95.61 L199.81 87.12 L198.84 78.65 L198.47 70.23 L198.97 61.90 L199.97 53.66 L200.70 45.52 L200.62 37.49 L199.79 29.54 L198.83 21.67 L198.47 13.84"/>
<path d="M206.75 299.40 L207.57 291.42 L208.54 282.92 L208.92 274.44 L208.42 266.00 L207.43 257.63 L206.69 249.35 L206.76 241.18 L207.59 233.10 L208.55 225.12 L208.91 217.23 L208.41 209.38 L207.41 201.57 L206.68 193.76 L206.77 185.92 L207.61 178.02 L208.56 170.03 L208.91 161.95 L208.39 153.77 L207.39 145.49 L206.68 137.11 L206.78 128.67 L207.63 120.19 L208.58 111.69 L208.91 103.21 L208.37 94.77 L207.37 86.41 L206.67 78.14 L206.79 69.96 L207.65 61.90 L208.59 53.92 L208.91 46.03 L208.36 38.19 L207.36 30.38 L206.66 22.57 L206.80 14.72"/>
<path d="M215.28 299.40 L216.28 290.55 L216.99 282.15 L216.88 273.84 L216.02 265.63 L215.08 257.52 L214.75 249.51 L215.30 241.59 L216.30 233.73 L217.00 225.92 L216.87 218.11 L216.01 210.28 L215.06 202.40 L214.76 194.45 L215.31 186.40 L216.31 178.25 L217.00 170.00 L216.86 161.66 L215.99 153.23 L215.05 144.76 L214.76 136.26 L215.33 127.77 L216.33 119.32 L217.01 110.93 L216.84 102.62 L215.97 94.42 L215.04 86.32 L214.76 78.31 L215.35 70.39 L216.35 62.54 L217.01 54.72 L216.83 46.92 L215.95 39.08 L215.03 31.20 L214.77 23.24 L215.36 15.19"/>
<path d="M223.96 299.40 L224.89 290.10 L225.18 281.96 L224.60 273.91 L223.60 265.97 L222.93 258.09 L223.10 250.26 L223.98 242.45 L224.91 234.64 L225.17 226.78 L224.58 218.85 L223.58 210.83 L222.92 202.72 L223.11 194.50 L224.00 186.19 L224.92 177.79 L225.17 169.33 L224.57 160.84 L223.56 152.34 L222.92 143.87 L223.12 135.46 L224.02 127.12 L224.93 118.88 L225.17 110.75 L224.55 102.71 L223.54 94.77 L222.91 86.89 L223.13 79.07 L224.04 71.26 L224.94 63.44 L225.16 55.58 L224.53 47.65 L223.53 39.63 L222.91 31.51 L223.15 23.28 L224.06 14.96"/>
<path d="M232.66 299.40 L233.30 290.35 L233.09 282.45 L232.18 274.61 L231.28 266.80 L231.05 258.99 L231.67 251.14 L232.68 243.24 L233.30 235.26 L233.07 227.18 L232.16 218.99 L231.26 210.71 L231.05 202.34 L231.69 193.90 L232.70 185.41 L233.31 176.91 L233.06 168.43 L232.15 160.00 L231.25 151.63 L231.06 143.36 L231.71 135.19 L232.71 127.12 L233.31 119.15 L233.05 111.25 L232.13 103.41 L231.24 95.60 L231.06 87.79 L231.73 79.95 L232.73 72.04 L233.31 64.05 L233.04 55.97 L232.11 47.78 L231.23 39.49 L231.07 31.11 L231.74 22.67 L232.75 14.18"/>
<path d="M241.24 299.40 L241.43 291.14 L240.77 283.33 L239.77 275.50 L239.18 267.63 L239.45 259.67 L240.37 251.62 L241.25 243.48 L241.42 235.22 L240.75 226.88 L239.75 218.46 L239.17 209.98 L239.46 201.49 L240.39 193.00 L241.26 184.54 L241.42 176.15 L240.73 167.85 L239.73 159.64 L239.17 151.54 L239.47 143.54 L240.41 135.62 L241.27 127.76 L241.41 119.95 L240.72 112.14 L239.72 104.31 L239.17 96.43 L239.48 88.47 L240.43 80.41 L241.28 72.26 L241.41 64.00 L240.70 55.65 L239.70 47.23 L239.16 38.75 L239.50 30.25 L240.45 21.76 L241.30 13.31"/>
<path d="M249.59 299.40 L249.28 292.00 L248.34 284.07 L247.48 276.06 L247.35 267.94 L248.05 259.73 L249.05 251.41 L249.60 243.01 L249.27 234.55 L248.32 226.06 L247.47 217.56 L247.36 209.10 L248.07 200.68 L249.07 192.35 L249.60 184.11 L249.26 175.97 L248.31 167.93 L247.46 159.99 L247.37 152.12 L248.09 144.29 L249.09 136.49 L249.60 128.66 L249.24 120.80 L248.29 112.87 L247.45 104.85 L247.37 96.73 L248.11 88.51 L249.10 80.19 L249.60 71.78 L249.23 63.32 L248.27 54.83 L247.44 46.33 L247.38 37.87 L248.13 29.46 L249.12 21.13 L249.60 12.89"/>
<path d="M257.67 299.40 L256.94 292.40 L255.94 284.22 L255.44 275.93 L255.80 267.56 L256.76 259.12 L257.59 250.64 L257.66 242.14 L256.92 233.65 L255.93 225.22 L255.43 216.86 L255.81 208.58 L256.78 200.41 L257.60 192.34 L257.65 184.37 L256.90 176.48 L255.91 168.64 L255.43 160.83 L255.83 153.02 L256.80 145.17 L257.61 137.26 L257.65 129.28 L256.88 121.19 L255.90 113.00 L255.43 104.71 L255.84 96.33 L256.82 87.89 L257.62 79.40 L257.64 70.90 L256.86 62.42 L255.88 53.99 L255.43 45.63 L255.86 37.37 L256.84 29.20 L257.63 21.14 L257.63 13.17"/>
<path d="M265.48 299.40 L264.50 292.10 L263.70 283.68 L263.67 275.21 L264.44 266.71 L265.42 258.22 L265.88 249.77 L265.46 241.38 L264.49 233.07 L263.69 224.87 L263.68 216.76 L264.46 208.76 L265.44 200.84 L265.88 192.99 L265.45 185.17 L264.47 177.36 L263.68 169.53 L263.69 161.65 L264.48 153.69 L265.45 145.64 L265.88 137.48 L265.43 129.23 L264.45 120.88 L263.67 112.45 L263.70 103.98 L264.50 95.48 L265.47 86.99 L265.88 78.54 L265.42 70.15 L264.43 61.85 L263.67 53.65 L263.71 45.56 L264.52 37.56 L265.48 29.64 L265.88 21.79 L265.40 13.98"/>
<path d="M273.10 299.40 L272.13 291.28 L271.71 282.79 L272.16 274.32 L273.15 265.91 L273.92 257.57 L273.89 249.33 L273.08 241.19 L272.11 233.16 L271.71 225.21 L272.18 217.34 L273.17 209.52 L273.92 201.71 L273.88 193.89 L273.06 186.03 L272.10 178.09 L271.71 170.07 L272.20 161.95 L273.19 153.73 L273.93 145.41 L273.87 137.01 L273.04 128.55 L272.08 120.05 L271.71 111.56 L272.21 103.09 L273.20 94.68 L273.94 86.35 L273.86 78.12 L273.02 69.99 L272.07 61.95 L271.71 54.01 L272.23 46.15 L273.22 38.32 L273.95 30.52 L273.85 22.69 L273.01 14.83"/>
<path d="M280.67 299.40 L279.93 290.44 L280.00 282.08 L280.83 273.81 L281.79 265.64 L282.15 257.57 L281.64 249.59 L280.65 241.70 L279.92 233.86 L280.01 226.05 L280.85 218.24 L281.80 210.39 L282.15 202.49 L281.63 194.50 L280.63 186.41 L279.91 178.22 L280.02 169.94 L280.87 161.56 L281.82 153.11 L282.15 144.63 L281.61 136.13 L280.61 127.65 L279.91 119.22 L280.03 110.86 L280.89 102.59 L281.83 94.43 L282.15 86.36 L281.59 78.39 L280.59 70.50 L279.90 62.67 L280.04 54.86 L280.91 47.05 L281.84 39.20 L282.14 31.29 L281.58 23.29 L280.58 15.20"/>
<path d="M288.32 299.40 L287.99 290.09 L288.53 281.99 L289.53 273.98 L290.23 266.07 L290.10 258.21 L289.24 250.40 L288.30 242.59 L287.99 234.76 L288.55 226.87 L289.55 218.91 L290.24 210.86 L290.09 202.71 L289.22 194.45 L288.29 186.10 L288.00 177.68 L288.57 169.20 L289.57 160.70 L290.25 152.21 L290.08 143.76 L289.20 135.38 L288.28 127.08 L288.00 118.88 L288.58 110.78 L289.59 102.78 L290.25 94.87 L290.07 87.02 L289.18 79.20 L288.26 71.39 L288.00 63.56 L288.60 55.67 L289.61 47.71 L290.26 39.65 L290.06 31.49 L289.17 23.23 L288.25 14.87"/>
<path d="M296.16 299.40 L296.34 290.44 L297.22 282.57 L298.14 274.74 L298.41 266.93 L297.82 259.11 L296.82 251.25 L296.16 243.32 L296.35 235.30 L297.24 227.18 L298.16 218.96 L298.41 210.63 L297.80 202.23 L296.80 193.77 L296.15 185.28 L296.36 176.78 L297.26 168.31 L298.17 159.90 L298.40 151.57 L297.79 143.34 L296.78 135.21 L296.15 127.18 L296.37 119.24 L297.28 111.37 L298.18 103.55 L298.40 95.74 L297.77 87.92 L296.76 80.05 L296.15 72.12 L296.38 64.09 L297.30 55.96 L298.19 47.74 L298.39 39.41 L297.75 31.00 L296.75 22.54 L296.14 14.04"/>
<path d="M304.29 299.40 L304.91 291.28 L305.92 283.46 L306.54 275.62 L306.31 267.71 L305.40 259.72 L304.50 251.64 L304.29 243.45 L304.93 235.16 L305.93 226.78 L306.54 218.34 L306.30 209.85 L305.38 201.35 L304.49 192.87 L304.29 184.44 L304.95 176.08 L305.95 167.81 L306.55 159.65 L306.29 151.59 L305.36 143.62 L304.48 135.73 L304.30 127.89 L304.96 120.08 L305.97 112.27 L306.55 104.42 L306.27 96.51 L305.34 88.52 L304.47 80.43 L304.31 72.23 L304.98 63.94 L305.98 55.55 L306.55 47.11 L306.26 38.62 L305.32 30.12 L304.46 21.64 L304.31 13.21"/>
<path d="M312.68 299.40 L313.61 292.10 L314.49 284.14 L314.66 276.09 L313.99 267.93 L312.99 259.67 L312.41 251.32 L312.70 242.90 L313.63 234.42 L314.50 225.93 L314.65 217.44 L313.97 208.99 L312.97 200.60 L312.41 192.30 L312.71 184.10 L313.65 176.00 L314.51 168.01 L314.65 160.09 L313.95 152.24 L312.95 144.43 L312.40 136.62 L312.72 128.78 L313.67 120.90 L314.52 112.93 L314.64 104.88 L313.94 96.72 L312.94 88.45 L312.40 80.10 L312.74 71.67 L313.69 63.19 L314.53 54.69 L314.64 46.21 L313.92 37.76 L312.92 29.38 L312.40 21.08 L312.75 12.89"/>
<path d="M321.29 299.40 L322.29 292.40 L322.83 284.18 L322.51 275.86 L321.56 267.46 L320.71 258.99 L320.60 250.50 L321.31 242.00 L322.31 233.54 L322.84 225.13 L322.50 216.80 L321.54 208.56 L320.70 200.43 L320.60 192.40 L321.33 184.46 L322.32 176.59 L322.84 168.77 L322.48 160.96 L321.52 153.14 L320.69 145.28 L320.61 137.34 L321.35 129.31 L322.34 121.19 L322.84 112.96 L322.47 104.63 L321.50 96.23 L320.68 87.76 L320.62 79.27 L321.37 70.77 L322.36 62.31 L322.84 53.90 L322.45 45.58 L321.49 37.35 L320.67 29.22 L320.63 21.20 L321.38 13.26"/>
<path d="M330.00 299.40 L330.83 292.01 L330.90 283.56 L330.16 275.07 L329.16 266.58 L328.67 258.10 L329.05 249.66 L330.02 241.31 L330.84 233.04 L330.89 224.87 L330.14 216.81 L329.15 208.84 L328.67 200.95 L329.07 193.12 L330.04 185.31 L330.85 177.49 L330.88 169.65 L330.12 161.74 L329.13 153.74 L328.67 145.65 L329.08 137.45 L330.06 129.16 L330.85 120.78 L330.87 112.33 L330.10 103.84 L329.12 95.34 L328.67 86.87 L329.10 78.44 L330.07 70.08 L330.86 61.82 L330.87 53.66 L330.08 45.61 L329.10 37.64 L328.67 29.76 L329.11 21.92 L330.09 14.11"/>
<path d="M337.96 299.40 L337.96 291.15 L337.96 282.66 L337.96 274.21 L337.96 265.82 L337.96 257.53 L337.96 249.32 L337.96 241.23 L337.96 233.23 L337.96 225.32 L337.96 217.47 L337.96 209.65 L337.96 201.84 L337.96 194.01 L337.96 186.12 L337.96 178.16 L337.96 170.10 L337.96 161.94 L337.96 153.68 L337.96 145.32 L337.96 136.89 L337.96 128.42 L337.96 119.92 L337.96 111.43 L337.96 102.98 L337.96 94.60 L337.96 86.31 L337.96 78.11 L337.96 70.02 L337.96 62.03 L337.96 54.12 L337.96 46.27 L337.96 38.46 L337.96 30.65 L337.96 22.81 L337.96 14.92"/>
</g>
<clipPath id="cba"><path d="M86.75 74.80 L125.34 135.81 L164.97 185.78 L201.46 213.40 L233.22 239.70 L243.46 239.70 L236.70 224.08 L227.75 206.04 L218.45 187.51 L212.83 177.52 L201.20 159.21 L188.15 141.20 L174.93 124.45 L167.14 115.57 L156.36 104.16 L142.73 91.73 L132.77 83.60 L121.89 75.58 L94.10 57.70 Z"/></clipPath>
<path d="M86.75 74.80 L125.34 135.81 L164.97 185.78 L201.46 213.40 L233.22 239.70 L243.46 239.70 L236.70 224.08 L227.75 206.04 L218.45 187.51 L212.83 177.52 L201.20 159.21 L188.15 141.20 L174.93 124.45 L167.14 115.57 L156.36 104.16 L142.73 91.73 L132.77 83.60 L121.89 75.58 L94.10 57.70 Z" fill="#fffb80"/>
<g stroke="#8068b4" stroke-opacity="0.3" stroke-width="0.45" fill="none" clip-path="url(#cba)">
<path d="M82.31 52.63 L93.75 60.19 L108.12 70.17 L119.64 78.61 L130.29 86.70 L139.93 94.85 L153.16 107.34 L163.53 118.76 L171.01 127.62 L184.04 144.30 L196.94 162.11 L208.44 180.21 L213.89 189.90 L223.15 208.35 L232.02 226.21 L239.06 243.48"/>
<path d="M77.98 59.22 L89.33 66.72 L103.56 76.60 L114.94 84.93 L125.37 92.87 L134.66 100.71 L147.56 112.89 L157.63 123.98 L164.88 132.56 L177.75 149.04 L190.43 166.55 L201.72 184.32 L206.92 193.57 L216.10 211.88 L224.85 229.47 L231.77 246.47"/>
<path d="M73.64 65.81 L84.91 73.25 L99.00 83.03 L110.23 91.26 L120.45 99.03 L129.39 106.58 L141.96 118.44 L151.72 129.20 L158.74 137.51 L171.46 153.79 L183.92 170.99 L194.99 188.43 L199.94 197.23 L209.06 215.40 L217.67 232.73 L224.48 249.46"/>
<path d="M69.31 72.40 L80.49 79.78 L94.44 89.47 L105.53 97.59 L115.53 105.19 L124.12 112.44 L136.36 123.99 L145.82 134.42 L152.61 142.46 L165.17 158.54 L177.41 175.43 L188.27 192.54 L192.97 200.90 L202.02 218.93 L210.50 235.99 L217.19 252.44"/>
<path d="M64.98 78.99 L76.07 86.31 L89.88 95.90 L100.83 103.92 L110.61 111.35 L118.85 118.30 L130.77 129.53 L139.92 139.64 L146.47 147.40 L158.88 163.28 L170.90 179.86 L181.55 196.66 L186.00 204.56 L194.97 222.46 L203.33 239.25 L209.90 255.43"/>
<path d="M60.64 85.57 L71.65 92.84 L85.32 102.33 L96.12 110.24 L105.69 117.51 L113.58 124.17 L125.17 135.08 L134.01 144.86 L140.34 152.35 L152.59 168.03 L164.39 184.30 L174.83 200.77 L179.02 208.23 L187.93 225.99 L196.16 242.51 L202.61 258.41"/>
<path d="M56.31 92.16 L67.23 99.37 L80.76 108.77 L91.42 116.57 L100.77 123.67 L108.31 130.03 L119.57 140.63 L128.11 150.08 L134.20 157.30 L146.30 172.77 L157.88 188.74 L168.11 204.88 L172.05 211.89 L180.89 229.52 L188.99 245.77 L195.33 261.40"/>
<path d="M51.97 98.75 L62.81 105.90 L76.20 115.20 L86.71 122.90 L95.85 129.83 L103.04 135.89 L113.97 146.18 L122.20 155.30 L128.07 162.24 L140.01 177.52 L151.37 193.18 L161.39 208.99 L165.08 215.56 L173.84 233.05 L181.82 249.03 L188.04 264.39"/>
<path d="M47.64 105.34 L58.40 112.43 L71.65 121.63 L82.01 129.23 L90.93 135.99 L97.77 141.76 L108.37 151.73 L116.30 160.52 L121.93 167.19 L133.72 182.27 L144.86 197.62 L154.67 213.10 L158.10 219.22 L166.80 236.58 L174.65 252.29 L180.75 267.37"/>
<path d="M43.31 111.92 L53.98 118.96 L67.09 128.07 L77.31 135.56 L86.01 142.15 L92.50 147.62 L102.78 157.28 L110.39 165.74 L115.80 172.14 L127.43 187.01 L138.35 202.06 L147.95 217.21 L151.13 222.89 L159.76 240.10 L167.47 255.55 L173.46 270.36"/>
<path d="M85.49 47.80 L38.68 118.95"/>
<path d="M91.24 51.60 L43.97 122.44"/>
<path d="M96.99 55.40 L49.26 125.93"/>
<path d="M104.23 60.42 L55.74 130.43"/>
<path d="M111.46 65.45 L62.22 134.93"/>
<path d="M117.28 69.71 L67.26 138.62"/>
<path d="M123.09 73.96 L72.29 142.31"/>
<path d="M128.49 78.08 L76.53 145.52"/>
<path d="M133.90 82.19 L80.77 148.73"/>
<path d="M138.84 86.37 L83.82 151.30"/>
<path d="M143.79 90.55 L86.88 153.87"/>
<path d="M150.53 96.91 L91.84 158.54"/>
<path d="M157.26 103.27 L96.80 163.20"/>
<path d="M162.56 109.10 L100.45 167.26"/>
<path d="M167.86 114.93 L104.09 171.31"/>
<path d="M171.69 119.46 L106.67 174.36"/>
<path d="M175.51 123.99 L109.25 177.41"/>
<path d="M182.08 132.40 L114.98 184.74"/>
<path d="M188.66 140.82 L120.72 192.07"/>
<path d="M195.19 149.84 L126.06 199.43"/>
<path d="M201.72 158.85 L131.40 206.79"/>
<path d="M207.54 168.02 L136.09 214.20"/>
<path d="M213.37 177.19 L140.78 221.60"/>
<path d="M216.19 182.20 L142.23 224.20"/>
<path d="M219.01 187.21 L143.69 226.80"/>
<path d="M223.66 196.49 L147.97 235.33"/>
<path d="M228.31 205.76 L152.24 243.87"/>
<path d="M232.79 214.79 L156.03 251.45"/>
<path d="M237.28 223.82 L159.83 259.03"/>
<path d="M240.84 232.55 L162.75 266.29"/>
<path d="M244.41 241.29 L165.68 273.55"/>
</g>
<path d="M38.66 102.41 L160.43 108.47 L166.11 114.49 L40.39 109.36 Z" fill="#fd8207" stroke="#141414" stroke-width="1.2" stroke-linejoin="miter"/>
<path d="M44.07 125.35 L180.51 131.51 L185.88 138.32 L45.80 132.18 Z" fill="#fd8207" stroke="#141414" stroke-width="1.2" stroke-linejoin="miter"/>
<path d="M50.68 150.70 L199.73 157.18 L205.10 165.36 L52.62 158.06 Z" fill="#fd8207" stroke="#141414" stroke-width="1.2" stroke-linejoin="miter"/>
<path d="M60.76 191.25 L224.22 199.00 L228.30 207.16 L61.92 198.62 Z" fill="#fd8207" stroke="#141414" stroke-width="1.2" stroke-linejoin="miter"/>
<path d="M85.96 76.90 L121.40 135.81 L160.77 186.31 L198.57 216.82 L234.49 242.96 L249.24 242.96 L248.29 239.70 L233.22 239.70 L201.46 213.40 L164.97 185.78 L125.34 135.81 L86.75 74.80 Z" fill="#fdf78c"/>
<path d="M85.96 76.90 L121.40 135.81 L160.77 186.31 L198.57 216.82 L234.49 242.96 L249.24 242.96" fill="none" stroke="#141414" stroke-width="1.2" stroke-linejoin="miter"/>
<path d="M86.75 74.80 L125.34 135.81 L164.97 185.78 L201.46 213.40 L233.22 239.70 L248.29 239.70" fill="none" stroke="#141414" stroke-width="1.2" stroke-linejoin="miter"/>
<path d="M20.60 31.14 L72.73 45.87 L85.96 76.90" fill="none" stroke="#141414" stroke-width="1.2" stroke-linejoin="miter"/>
<path d="M85.96 76.90 L94.10 57.70 L121.89 75.58 L132.77 83.60 L142.73 91.73 L156.36 104.16 L167.14 115.57 L174.93 124.45 L188.15 141.20 L201.20 159.21 L212.83 177.52 L218.45 187.51 L227.75 206.04 L236.70 224.08 L243.46 239.70 L248.29 239.70" fill="none" stroke="#141414" stroke-width="1.2" stroke-linejoin="miter"/>
<path d="M77.83 40.61 L87.80 44.29" fill="none" stroke="#141414" stroke-width="1.2" stroke-linejoin="miter"/>
<path d="M20.60 25.35 V299.40" stroke="#141414" stroke-width="1.1"/>
<path d="M248.29 239.70 L249.24 242.96 L259.48 264.79 L273.65 276.10 L305.41 290.41 L330.19 290.41" fill="none" stroke="#0a640a" stroke-width="1.5" stroke-linejoin="round"/>
<path d="M330.19 290.41 L331.14 299.40" fill="none" stroke="#b01010" stroke-width="1.2"/>
<circle cx="330.19" cy="290.41" r="1.1" fill="#d01818"/>
<circle cx="331.14" cy="299.40" r="1.1" fill="#d01818"/>
<path d="M20.60 25.35 L77.83 40.61" fill="none" stroke="#0a0ad2" stroke-width="1.4" stroke-linejoin="round"/>
<path d="M77.83 40.61 L85.96 76.90 L87.80 44.29" fill="none" stroke="#0a0ad2" stroke-width="1.2" stroke-linejoin="round"/>
<path d="M87.80 44.29 L99.35 51.92 L113.89 62.02 L125.60 70.59 L136.52 78.90 L146.60 87.42 L160.25 100.31 L171.01 112.14 L178.78 121.35 L192.01 138.29 L205.19 156.49 L216.95 175.00 L222.72 185.26 L232.07 203.88 L241.10 222.08 L248.29 239.70" fill="none" stroke="#0a0ad2" stroke-width="1.4" stroke-linejoin="round"/>
<path d="M20.60 299.40 H331.14" stroke="#0a0ad2" stroke-width="1.5"/>
<circle cx="20.60" cy="299.70" r="1.3" fill="#2020e0"/>
<circle cx="28.16" cy="299.70" r="1.3" fill="#2020e0"/>
<circle cx="35.72" cy="299.70" r="1.3" fill="#2020e0"/>
<circle cx="43.28" cy="299.70" r="1.3" fill="#2020e0"/>
<circle cx="50.84" cy="299.70" r="1.3" fill="#2020e0"/>
<circle cx="58.40" cy="299.70" r="1.3" fill="#2020e0"/>
<circle cx="65.96" cy="299.70" r="1.3" fill="#2020e0"/>
<circle cx="73.52" cy="299.70" r="1.3" fill="#2020e0"/>
<circle cx="81.08" cy="299.70" r="1.3" fill="#2020e0"/>
<circle cx="88.64" cy="299.70" r="1.3" fill="#2020e0"/>
<circle cx="96.20" cy="299.70" r="1.3" fill="#2020e0"/>
<circle cx="103.76" cy="299.70" r="1.3" fill="#2020e0"/>
<circle cx="111.32" cy="299.70" r="1.3" fill="#2020e0"/>
<circle cx="118.88" cy="299.70" r="1.3" fill="#2020e0"/>
<circle cx="126.44" cy="299.70" r="1.3" fill="#2020e0"/>
<circle cx="134.00" cy="299.70" r="1.3" fill="#2020e0"/>
<circle cx="141.56" cy="299.70" r="1.3" fill="#2020e0"/>
<circle cx="149.12" cy="299.70" r="1.3" fill="#2020e0"/>
<circle cx="156.68" cy="299.70" r="1.3" fill="#2020e0"/>
<circle cx="164.24" cy="299.70" r="1.3" fill="#2020e0"/>
<circle cx="171.80" cy="299.70" r="1.3" fill="#2020e0"/>
<circle cx="179.36" cy="299.70" r="1.3" fill="#2020e0"/>
<circle cx="186.92" cy="299.70" r="1.3" fill="#2020e0"/>
<circle cx="194.48" cy="299.70" r="1.3" fill="#2020e0"/>
<circle cx="202.04" cy="299.70" r="1.3" fill="#2020e0"/>
<circle cx="209.60" cy="299.70" r="1.3" fill="#2020e0"/>
<circle cx="217.16" cy="299.70" r="1.3" fill="#2020e0"/>
<circle cx="224.72" cy="299.70" r="1.3" fill="#2020e0"/>
<circle cx="232.28" cy="299.70" r="1.3" fill="#2020e0"/>
<circle cx="239.84" cy="299.70" r="1.3" fill="#2020e0"/>
<circle cx="247.40" cy="299.70" r="1.3" fill="#2020e0"/>
<circle cx="254.96" cy="299.70" r="1.3" fill="#2020e0"/>
<circle cx="262.52" cy="299.70" r="1.3" fill="#2020e0"/>
<circle cx="270.08" cy="299.70" r="1.3" fill="#2020e0"/>
<circle cx="277.64" cy="299.70" r="1.3" fill="#2020e0"/>
<circle cx="285.20" cy="299.70" r="1.3" fill="#2020e0"/>
<circle cx="292.76" cy="299.70" r="1.3" fill="#2020e0"/>
<circle cx="300.32" cy="299.70" r="1.3" fill="#2020e0"/>
<circle cx="307.88" cy="299.70" r="1.3" fill="#2020e0"/>
<circle cx="315.44" cy="299.70" r="1.3" fill="#2020e0"/>
<circle cx="323.00" cy="299.70" r="1.3" fill="#2020e0"/>
<circle cx="330.56" cy="299.70" r="1.3" fill="#2020e0"/>
<circle cx="20.60" cy="299.40" r="1.1" fill="#f0a000"/>
<circle cx="20.60" cy="291.25" r="1.1" fill="#f0a000"/>
<circle cx="20.60" cy="283.09" r="1.1" fill="#f0a000"/>
<circle cx="20.60" cy="274.94" r="1.1" fill="#f0a000"/>
<circle cx="20.60" cy="266.79" r="1.1" fill="#f0a000"/>
<circle cx="20.60" cy="258.63" r="1.1" fill="#f0a000"/>
<circle cx="20.60" cy="250.48" r="1.1" fill="#f0a000"/>
<circle cx="20.60" cy="242.33" r="1.1" fill="#f0a000"/>
<circle cx="20.60" cy="234.18" r="1.1" fill="#f0a000"/>
<circle cx="20.60" cy="226.02" r="1.1" fill="#f0a000"/>
<path d="M25.60 20.17 L24.55 24.13" stroke="#3c3ce4" stroke-width="0.4"/>
<path d="M24.29 25.10 L26.05 22.98 L23.82 22.38 Z" fill="#1414c8"/>
<path d="M31.29 21.68 L30.24 25.65" stroke="#3c3ce4" stroke-width="0.4"/>
<path d="M29.98 26.61 L31.74 24.49 L29.51 23.90 Z" fill="#1414c8"/>
<path d="M36.98 23.20 L35.93 27.16" stroke="#3c3ce4" stroke-width="0.4"/>
<path d="M35.67 28.13 L37.43 26.01 L35.20 25.42 Z" fill="#1414c8"/>
<path d="M42.68 24.72 L41.62 28.68" stroke="#3c3ce4" stroke-width="0.4"/>
<path d="M41.36 29.65 L43.12 27.53 L40.89 26.93 Z" fill="#1414c8"/>
<path d="M48.37 26.24 L47.31 30.20" stroke="#3c3ce4" stroke-width="0.4"/>
<path d="M47.05 31.16 L48.81 29.04 L46.58 28.45 Z" fill="#1414c8"/>
<path d="M54.06 27.75 L53.00 31.71" stroke="#3c3ce4" stroke-width="0.4"/>
<path d="M52.74 32.68 L54.50 30.56 L52.27 29.97 Z" fill="#1414c8"/>
<path d="M59.75 29.27 L58.69 33.23" stroke="#3c3ce4" stroke-width="0.4"/>
<path d="M58.43 34.20 L60.19 32.08 L57.96 31.48 Z" fill="#1414c8"/>
<path d="M65.44 30.79 L64.38 34.75" stroke="#3c3ce4" stroke-width="0.4"/>
<path d="M64.12 35.71 L65.88 33.59 L63.66 33.00 Z" fill="#1414c8"/>
<path d="M71.13 32.30 L70.07 36.26" stroke="#3c3ce4" stroke-width="0.4"/>
<path d="M69.81 37.23 L71.57 35.11 L69.35 34.52 Z" fill="#1414c8"/>
<path d="M76.82 33.82 L75.76 37.78" stroke="#3c3ce4" stroke-width="0.4"/>
<path d="M75.50 38.75 L77.26 36.63 L75.04 36.04 Z" fill="#1414c8"/>
<path d="M25.60 20.17 L25.60 20.17 L31.29 21.68 L36.98 23.20 L42.68 24.72 L48.37 26.24 L54.06 27.75 L59.75 29.27 L65.44 30.79 L71.13 32.30 L76.82 33.82" stroke="#4a4aec" stroke-width="0.45" fill="none"/>
<path d="M94.61 41.24 L92.35 44.66" stroke="#3c3ce4" stroke-width="0.4"/>
<path d="M91.80 45.49 L94.14 44.04 L92.22 42.77 Z" fill="#1414c8"/>
<path d="M99.30 44.34 L97.04 47.76" stroke="#3c3ce4" stroke-width="0.4"/>
<path d="M96.49 48.59 L98.83 47.14 L96.91 45.87 Z" fill="#1414c8"/>
<path d="M104.10 47.55 L101.76 50.91" stroke="#3c3ce4" stroke-width="0.4"/>
<path d="M101.19 51.74 L103.56 50.34 L101.67 49.03 Z" fill="#1414c8"/>
<path d="M108.72 50.75 L106.38 54.12" stroke="#3c3ce4" stroke-width="0.4"/>
<path d="M105.81 54.94 L108.18 53.55 L106.29 52.23 Z" fill="#1414c8"/>
<path d="M113.34 53.96 L111.00 57.33" stroke="#3c3ce4" stroke-width="0.4"/>
<path d="M110.43 58.15 L112.80 56.75 L110.91 55.44 Z" fill="#1414c8"/>
<path d="M94.61 41.24 L94.61 41.24 L99.30 44.34 L104.10 47.55 L108.72 50.75 L113.34 53.96" stroke="#4a4aec" stroke-width="0.45" fill="none"/>
<path d="M116.79 56.36 L114.45 59.73" stroke="#3c3ce4" stroke-width="0.4"/>
<path d="M113.88 60.55 L116.25 59.15 L114.36 57.84 Z" fill="#1414c8"/>
<path d="M121.47 59.76 L119.05 63.06" stroke="#3c3ce4" stroke-width="0.4"/>
<path d="M118.46 63.87 L120.86 62.53 L119.01 61.18 Z" fill="#1414c8"/>
<path d="M126.01 63.08 L123.59 66.39" stroke="#3c3ce4" stroke-width="0.4"/>
<path d="M123.00 67.19 L125.40 65.86 L123.54 64.50 Z" fill="#1414c8"/>
<path d="M130.62 66.50 L128.14 69.76" stroke="#3c3ce4" stroke-width="0.4"/>
<path d="M127.53 70.55 L129.96 69.26 L128.13 67.87 Z" fill="#1414c8"/>
<path d="M135.10 69.90 L132.62 73.16" stroke="#3c3ce4" stroke-width="0.4"/>
<path d="M132.01 73.96 L134.44 72.67 L132.61 71.27 Z" fill="#1414c8"/>
<path d="M116.79 56.36 L116.79 56.36 L121.47 59.76 L126.01 63.08 L130.62 66.50 L135.10 69.90" stroke="#4a4aec" stroke-width="0.45" fill="none"/>
<path d="M138.44 72.45 L135.96 75.71" stroke="#3c3ce4" stroke-width="0.4"/>
<path d="M135.35 76.50 L137.78 75.21 L135.95 73.82 Z" fill="#1414c8"/>
<path d="M143.07 76.18 L140.42 79.32" stroke="#3c3ce4" stroke-width="0.4"/>
<path d="M139.77 80.08 L142.26 78.91 L140.51 77.43 Z" fill="#1414c8"/>
<path d="M147.36 79.82 L144.71 82.95" stroke="#3c3ce4" stroke-width="0.4"/>
<path d="M144.07 83.71 L146.56 82.54 L144.80 81.06 Z" fill="#1414c8"/>
<path d="M151.87 83.73 L149.05 86.71" stroke="#3c3ce4" stroke-width="0.4"/>
<path d="M148.37 87.44 L150.92 86.41 L149.25 84.83 Z" fill="#1414c8"/>
<path d="M155.96 87.59 L153.14 90.57" stroke="#3c3ce4" stroke-width="0.4"/>
<path d="M152.46 91.30 L155.01 90.27 L153.34 88.69 Z" fill="#1414c8"/>
<path d="M138.44 72.45 L138.44 72.45 L143.07 76.18 L147.36 79.82 L151.87 83.73 L155.96 87.59" stroke="#4a4aec" stroke-width="0.45" fill="none"/>
<path d="M159.01 90.48 L156.20 93.46" stroke="#3c3ce4" stroke-width="0.4"/>
<path d="M155.51 94.18 L158.06 93.16 L156.39 91.58 Z" fill="#1414c8"/>
<path d="M163.10 94.34 L160.29 97.32" stroke="#3c3ce4" stroke-width="0.4"/>
<path d="M159.60 98.05 L162.15 97.02 L160.48 95.44 Z" fill="#1414c8"/>
<path d="M167.33 98.73 L164.30 101.49" stroke="#3c3ce4" stroke-width="0.4"/>
<path d="M163.56 102.16 L166.18 101.33 L164.63 99.63 Z" fill="#1414c8"/>
<path d="M171.12 102.89 L168.08 105.65" stroke="#3c3ce4" stroke-width="0.4"/>
<path d="M167.34 106.33 L169.97 105.49 L168.42 103.79 Z" fill="#1414c8"/>
<path d="M174.90 107.06 L171.87 109.81" stroke="#3c3ce4" stroke-width="0.4"/>
<path d="M171.13 110.49 L173.75 109.66 L172.20 107.95 Z" fill="#1414c8"/>
<path d="M159.01 90.48 L159.01 90.48 L163.10 94.34 L167.33 98.73 L171.12 102.89 L174.90 107.06" stroke="#4a4aec" stroke-width="0.45" fill="none"/>
<path d="M177.79 110.41 L174.66 113.06" stroke="#3c3ce4" stroke-width="0.4"/>
<path d="M173.90 113.70 L176.55 112.97 L175.07 111.21 Z" fill="#1414c8"/>
<path d="M181.41 114.69 L178.27 117.34" stroke="#3c3ce4" stroke-width="0.4"/>
<path d="M177.51 117.98 L180.16 117.25 L178.68 115.49 Z" fill="#1414c8"/>
<path d="M177.79 110.41 L177.79 110.41 L181.41 114.69" stroke="#4a4aec" stroke-width="0.45" fill="none"/>
<path d="M184.24 118.11 L181.01 120.63" stroke="#3c3ce4" stroke-width="0.4"/>
<path d="M180.22 121.25 L182.90 120.61 L181.49 118.80 Z" fill="#1414c8"/>
<path d="M184.30 118.18 L181.07 120.71" stroke="#3c3ce4" stroke-width="0.4"/>
<path d="M180.29 121.32 L182.96 120.69 L181.55 118.88 Z" fill="#1414c8"/>
<path d="M184.24 118.11 L184.24 118.11 L184.30 118.18" stroke="#4a4aec" stroke-width="0.45" fill="none"/>
<path d="M186.89 121.49 L183.66 124.02" stroke="#3c3ce4" stroke-width="0.4"/>
<path d="M182.87 124.63 L185.55 124.00 L184.13 122.19 Z" fill="#1414c8"/>
<path d="M190.28 125.83 L187.04 128.35" stroke="#3c3ce4" stroke-width="0.4"/>
<path d="M186.26 128.97 L188.93 128.34 L187.52 126.52 Z" fill="#1414c8"/>
<path d="M193.66 130.16 L190.43 132.69" stroke="#3c3ce4" stroke-width="0.4"/>
<path d="M189.64 133.30 L192.32 132.67 L190.90 130.86 Z" fill="#1414c8"/>
<path d="M186.89 121.49 L186.89 121.49 L190.28 125.83 L193.66 130.16" stroke="#4a4aec" stroke-width="0.45" fill="none"/>
<path d="M196.25 133.47 L193.02 136.00" stroke="#3c3ce4" stroke-width="0.4"/>
<path d="M192.23 136.61 L194.91 135.98 L193.49 134.17 Z" fill="#1414c8"/>
<path d="M196.31 133.55 L193.08 136.08" stroke="#3c3ce4" stroke-width="0.4"/>
<path d="M192.29 136.69 L194.97 136.06 L193.55 134.25 Z" fill="#1414c8"/>
<path d="M196.25 133.47 L196.25 133.47 L196.31 133.55" stroke="#4a4aec" stroke-width="0.45" fill="none"/>
<path d="M198.94 137.11 L195.62 139.52" stroke="#3c3ce4" stroke-width="0.4"/>
<path d="M194.81 140.10 L197.51 139.57 L196.16 137.71 Z" fill="#1414c8"/>
<path d="M199.00 137.19 L195.68 139.60" stroke="#3c3ce4" stroke-width="0.4"/>
<path d="M194.87 140.19 L197.57 139.65 L196.22 137.79 Z" fill="#1414c8"/>
<path d="M198.94 137.11 L198.94 137.11 L199.00 137.19" stroke="#4a4aec" stroke-width="0.45" fill="none"/>
<path d="M201.46 140.60 L198.14 143.00" stroke="#3c3ce4" stroke-width="0.4"/>
<path d="M197.33 143.59 L200.03 143.05 L198.68 141.19 Z" fill="#1414c8"/>
<path d="M204.69 145.05 L201.37 147.46" stroke="#3c3ce4" stroke-width="0.4"/>
<path d="M200.56 148.04 L203.26 147.51 L201.91 145.64 Z" fill="#1414c8"/>
<path d="M207.91 149.51 L204.59 151.91" stroke="#3c3ce4" stroke-width="0.4"/>
<path d="M203.78 152.50 L206.48 151.96 L205.13 150.10 Z" fill="#1414c8"/>
<path d="M201.46 140.60 L201.46 140.60 L204.69 145.05 L207.91 149.51" stroke="#4a4aec" stroke-width="0.45" fill="none"/>
<path d="M210.59 153.23 L207.12 155.43" stroke="#3c3ce4" stroke-width="0.4"/>
<path d="M206.28 155.96 L209.01 155.59 L207.77 153.65 Z" fill="#1414c8"/>
<path d="M210.64 153.31 L207.18 155.51" stroke="#3c3ce4" stroke-width="0.4"/>
<path d="M206.33 156.05 L209.06 155.68 L207.83 153.74 Z" fill="#1414c8"/>
<path d="M210.59 153.23 L210.59 153.23 L210.64 153.31" stroke="#4a4aec" stroke-width="0.45" fill="none"/>
<path d="M212.89 156.86 L209.43 159.06" stroke="#3c3ce4" stroke-width="0.4"/>
<path d="M208.59 159.59 L211.31 159.22 L210.08 157.28 Z" fill="#1414c8"/>
<path d="M212.94 156.94 L209.48 159.14" stroke="#3c3ce4" stroke-width="0.4"/>
<path d="M208.64 159.68 L211.37 159.31 L210.13 157.37 Z" fill="#1414c8"/>
<path d="M212.89 156.86 L212.89 156.86 L212.94 156.94" stroke="#4a4aec" stroke-width="0.45" fill="none"/>
<path d="M215.20 160.49 L211.74 162.69" stroke="#3c3ce4" stroke-width="0.4"/>
<path d="M210.89 163.22 L213.62 162.85 L212.38 160.91 Z" fill="#1414c8"/>
<path d="M218.14 165.13 L214.68 167.33" stroke="#3c3ce4" stroke-width="0.4"/>
<path d="M213.84 167.87 L216.57 167.50 L215.33 165.56 Z" fill="#1414c8"/>
<path d="M221.09 169.77 L217.63 171.97" stroke="#3c3ce4" stroke-width="0.4"/>
<path d="M216.79 172.51 L219.52 172.14 L218.28 170.20 Z" fill="#1414c8"/>
<path d="M215.20 160.49 L215.20 160.49 L218.14 165.13 L221.09 169.77" stroke="#4a4aec" stroke-width="0.45" fill="none"/>
<path d="M223.43 173.66 L219.85 175.67" stroke="#3c3ce4" stroke-width="0.4"/>
<path d="M218.98 176.16 L221.72 175.94 L220.60 173.94 Z" fill="#1414c8"/>
<path d="M223.47 173.75 L219.90 175.76" stroke="#3c3ce4" stroke-width="0.4"/>
<path d="M219.03 176.25 L221.77 176.03 L220.65 174.02 Z" fill="#1414c8"/>
<path d="M223.43 173.66 L223.43 173.66 L223.47 173.75" stroke="#4a4aec" stroke-width="0.45" fill="none"/>
<path d="M225.54 177.41 L221.96 179.42" stroke="#3c3ce4" stroke-width="0.4"/>
<path d="M221.09 179.91 L223.83 179.69 L222.71 177.68 Z" fill="#1414c8"/>
<path d="M225.58 177.50 L222.01 179.51" stroke="#3c3ce4" stroke-width="0.4"/>
<path d="M221.14 180.00 L223.88 179.77 L222.75 177.77 Z" fill="#1414c8"/>
<path d="M225.54 177.41 L225.54 177.41 L225.58 177.50" stroke="#4a4aec" stroke-width="0.45" fill="none"/>
<path d="M227.65 181.16 L224.07 183.17" stroke="#3c3ce4" stroke-width="0.4"/>
<path d="M223.20 183.66 L225.94 183.43 L224.82 181.43 Z" fill="#1414c8"/>
<path d="M230.38 186.46 L226.71 188.30" stroke="#3c3ce4" stroke-width="0.4"/>
<path d="M225.82 188.75 L228.57 188.65 L227.54 186.60 Z" fill="#1414c8"/>
<path d="M232.92 191.52 L229.25 193.36" stroke="#3c3ce4" stroke-width="0.4"/>
<path d="M228.36 193.81 L231.11 193.72 L230.08 191.66 Z" fill="#1414c8"/>
<path d="M235.46 196.59 L231.80 198.43" stroke="#3c3ce4" stroke-width="0.4"/>
<path d="M230.90 198.88 L233.65 198.78 L232.62 196.73 Z" fill="#1414c8"/>
<path d="M227.65 181.16 L227.65 181.16 L230.38 186.46 L232.92 191.52 L235.46 196.59" stroke="#4a4aec" stroke-width="0.45" fill="none"/>
<path d="M237.34 200.34 L233.68 202.18" stroke="#3c3ce4" stroke-width="0.4"/>
<path d="M232.79 202.63 L235.54 202.54 L234.50 200.48 Z" fill="#1414c8"/>
<path d="M237.39 200.43 L233.72 202.27" stroke="#3c3ce4" stroke-width="0.4"/>
<path d="M232.83 202.72 L235.58 202.63 L234.55 200.57 Z" fill="#1414c8"/>
<path d="M237.34 200.34 L237.34 200.34 L237.39 200.43" stroke="#4a4aec" stroke-width="0.45" fill="none"/>
<path d="M239.27 204.22 L235.60 206.04" stroke="#3c3ce4" stroke-width="0.4"/>
<path d="M234.70 206.48 L237.45 206.40 L236.43 204.34 Z" fill="#1414c8"/>
<path d="M239.32 204.31 L235.64 206.13" stroke="#3c3ce4" stroke-width="0.4"/>
<path d="M234.75 206.57 L237.50 206.49 L236.48 204.43 Z" fill="#1414c8"/>
<path d="M239.27 204.22 L239.27 204.22 L239.32 204.31" stroke="#4a4aec" stroke-width="0.45" fill="none"/>
<path d="M241.18 208.07 L237.51 209.89" stroke="#3c3ce4" stroke-width="0.4"/>
<path d="M236.61 210.34 L239.36 210.26 L238.34 208.20 Z" fill="#1414c8"/>
<path d="M243.70 213.15 L240.03 214.97" stroke="#3c3ce4" stroke-width="0.4"/>
<path d="M239.13 215.41 L241.88 215.33 L240.86 213.27 Z" fill="#1414c8"/>
<path d="M246.22 218.22 L242.55 220.04" stroke="#3c3ce4" stroke-width="0.4"/>
<path d="M241.65 220.49 L244.40 220.41 L243.38 218.35 Z" fill="#1414c8"/>
<path d="M248.63 223.85 L244.83 225.40" stroke="#3c3ce4" stroke-width="0.4"/>
<path d="M243.91 225.78 L246.66 225.90 L245.79 223.77 Z" fill="#1414c8"/>
<path d="M241.18 208.07 L241.18 208.07 L243.70 213.15 L246.22 218.22 L248.63 223.85" stroke="#4a4aec" stroke-width="0.45" fill="none"/>
<path d="M250.22 227.74 L246.42 229.29" stroke="#3c3ce4" stroke-width="0.4"/>
<path d="M245.49 229.67 L248.24 229.79 L247.37 227.66 Z" fill="#1414c8"/>
<path d="M252.56 233.48 L248.76 235.03" stroke="#3c3ce4" stroke-width="0.4"/>
<path d="M247.84 235.41 L250.59 235.53 L249.72 233.40 Z" fill="#1414c8"/>
<path d="M250.22 227.74 L250.22 227.74 L252.56 233.48" stroke="#4a4aec" stroke-width="0.45" fill="none"/>
<path d="M82.58 48.50 h2.6" stroke="#3030e0" stroke-width="0.4"/>
<circle cx="82.78" cy="48.50" r="0.8" fill="#1818d0"/>
<path d="M83.62 56.91 h2.6" stroke="#3030e0" stroke-width="0.4"/>
<circle cx="83.83" cy="56.91" r="0.8" fill="#1818d0"/>
<path d="M84.41 64.80 h2.6" stroke="#3030e0" stroke-width="0.4"/>
<circle cx="84.61" cy="64.80" r="0.8" fill="#1818d0"/>
<path d="M84.94 71.64 h2.6" stroke="#3030e0" stroke-width="0.4"/>
<circle cx="85.14" cy="71.64" r="0.8" fill="#1818d0"/>
<g font-family='"Liberation Sans", sans-serif' font-size="3.7" fill="#222" text-anchor="middle">
<rect x="68.10" y="104.19" width="5.8" height="3.6" fill="#fff" fill-opacity="0.9"/>
<text x="71.00" y="107.34">10</text>
<rect x="133.25" y="107.09" width="3.6" height="3.6" fill="#fff" fill-opacity="0.9"/>
<text x="135.05" y="110.24">3</text>
<rect x="79.70" y="127.60" width="3.6" height="3.6" fill="#fff" fill-opacity="0.9"/>
<text x="81.50" y="130.75">9</text>
<rect x="150.00" y="131.55" width="5.8" height="3.6" fill="#fff" fill-opacity="0.9"/>
<text x="152.90" y="134.70">12</text>
<rect x="93.35" y="153.90" width="3.6" height="3.6" fill="#fff" fill-opacity="0.9"/>
<text x="95.15" y="157.05">8</text>
<rect x="170.53" y="158.64" width="3.6" height="3.6" fill="#fff" fill-opacity="0.9"/>
<text x="172.32" y="161.79">5</text>
<rect x="118.02" y="195.98" width="3.6" height="3.6" fill="#fff" fill-opacity="0.9"/>
<text x="119.82" y="199.13">7</text>
<rect x="201.98" y="199.66" width="5.8" height="3.6" fill="#fff" fill-opacity="0.9"/>
<text x="204.88" y="202.81">11</text>
<rect x="113.25" y="86.05" width="5.8" height="3.6" fill="#fff" fill-opacity="0.9"/>
<text x="116.15" y="89.20">17</text>
<rect x="141.60" y="118.92" width="5.8" height="3.6" fill="#fff" fill-opacity="0.9"/>
<text x="144.50" y="122.07">18</text>
<rect x="159.98" y="143.38" width="5.8" height="3.6" fill="#fff" fill-opacity="0.9"/>
<text x="162.88" y="146.53">19</text>
<rect x="157.88" y="170.21" width="5.8" height="3.6" fill="#fff" fill-opacity="0.9"/>
<text x="160.77" y="173.36">16</text>
<rect x="185.75" y="177.57" width="3.6" height="3.6" fill="#fff" fill-opacity="0.9"/>
<text x="187.55" y="180.72">4</text>
<rect x="216.68" y="217.55" width="5.8" height="3.6" fill="#fff" fill-opacity="0.9"/>
<text x="219.57" y="220.70">20</text>
<rect x="108.53" y="207.03" width="5.8" height="3.6" fill="#fff" fill-opacity="0.9"/>
<text x="111.43" y="210.18">15</text>
<rect x="215.10" y="184.94" width="5.8" height="3.6" fill="#fff" fill-opacity="0.9"/>
<text x="218.00" y="188.09">14</text>
<rect x="125.90" y="79.21" width="3.6" height="3.6" fill="#fff" fill-opacity="0.9"/>
<text x="127.70" y="82.36">6</text>
<rect x="53.45" y="36.60" width="3.6" height="3.6" fill="#fff" fill-opacity="0.9"/>
<text x="55.25" y="39.75">2</text>
</g>
<path d="M20.60 0 V25.35" stroke="#30c0b0" stroke-width="0.6"/>
<path d="M20.60 299.40 V320" stroke="#30c0b0" stroke-width="0.6"/>
<path d="M0 299.40 H20.60" stroke="#f0a0a0" stroke-width="0.6"/>
<path d="M331.93 299.40 H343" stroke="#f0a0a0" stroke-width="0.6"/>
<g font-family='"Liberation Sans", sans-serif' fill="#111">
<path d="M20.60 299.40 v-2.5" stroke="#333" stroke-width="0.5"/>
<text x="20.60" y="306.90" font-size="4.9" text-anchor="middle">0</text>
<path d="M73.10 299.40 v-2.5" stroke="#333" stroke-width="0.5"/>
<text x="73.10" y="306.90" font-size="4.9" text-anchor="middle">10</text>
<path d="M125.60 299.40 v-2.5" stroke="#333" stroke-width="0.5"/>
<text x="125.60" y="306.90" font-size="4.9" text-anchor="middle">20</text>
<path d="M178.10 299.40 v-2.5" stroke="#333" stroke-width="0.5"/>
<text x="178.10" y="306.90" font-size="4.9" text-anchor="middle">30</text>
<path d="M230.60 299.40 v-2.5" stroke="#333" stroke-width="0.5"/>
<text x="230.60" y="306.90" font-size="4.9" text-anchor="middle">40</text>
<path d="M283.10 299.40 v-2.5" stroke="#333" stroke-width="0.5"/>
<text x="283.10" y="306.90" font-size="4.9" text-anchor="middle">50</text>
<path d="M335.60 299.40 v-2.5" stroke="#333" stroke-width="0.5"/>
<text x="335.60" y="306.90" font-size="4.9" text-anchor="middle">60</text>
<path d="M21.10 299.40 h4.5" stroke="#444" stroke-width="0.5"/>
<text x="17.40" y="301.00" font-size="4.9" text-anchor="end">0</text>
<path d="M21.10 273.10 h4.5" stroke="#444" stroke-width="0.5"/>
<text x="17.40" y="274.70" font-size="4.9" text-anchor="end">5</text>
<path d="M21.10 246.80 h4.5" stroke="#444" stroke-width="0.5"/>
<text x="17.40" y="248.40" font-size="4.9" text-anchor="end">10</text>
<path d="M21.10 220.50 h4.5" stroke="#444" stroke-width="0.5"/>
<text x="17.40" y="222.10" font-size="4.9" text-anchor="end">15</text>
<path d="M21.10 194.20 h4.5" stroke="#444" stroke-width="0.5"/>
<text x="17.40" y="195.80" font-size="4.9" text-anchor="end">20</text>
<path d="M21.10 167.90 h4.5" stroke="#444" stroke-width="0.5"/>
<text x="17.40" y="169.50" font-size="4.9" text-anchor="end">25</text>
<path d="M21.10 141.60 h4.5" stroke="#444" stroke-width="0.5"/>
<text x="17.40" y="143.20" font-size="4.9" text-anchor="end">30</text>
<path d="M21.10 115.30 h4.5" stroke="#444" stroke-width="0.5"/>
<text x="17.40" y="116.90" font-size="4.9" text-anchor="end">35</text>
<path d="M21.10 89.00 h4.5" stroke="#444" stroke-width="0.5"/>
<text x="17.40" y="90.60" font-size="4.9" text-anchor="end">40</text>
<path d="M21.10 62.70 h4.5" stroke="#444" stroke-width="0.5"/>
<text x="17.40" y="64.30" font-size="4.9" text-anchor="end">45</text>
<path d="M21.10 36.40 h4.5" stroke="#444" stroke-width="0.5"/>
<text x="17.40" y="38.00" font-size="4.9" text-anchor="end">50</text>
<path d="M21.10 10.10 h4.5" stroke="#444" stroke-width="0.5"/>
<text x="17.40" y="11.70" font-size="4.9" text-anchor="end">55</text>
<text x="179.60" y="316.90" font-size="6.6" text-anchor="middle">Distance</text>
<text transform="translate(9.10 155.25) rotate(-90)" font-size="6.6" text-anchor="middle">Elevation</text>
</g>
<rect x="6.5" y="42.7" width="64.3" height="7.2" fill="#fff" stroke="#8c8c8c" stroke-width="0.6"/>
<text x="8.2" y="48.4" font-family='"Liberation Sans", sans-serif' font-size="5.35" fill="#444">-3.000000, 50.000000 m</text>
<text x="269" y="45.5" font-family='"Liberation Serif", serif' font-weight="bold" font-size="18.5" fill="#111">(a)</text>
</g>
<g id="pb">
<clipPath id="csb"><path d="M359.80 20.00 L418.39 35.60 L426.72 72.73 L428.60 39.37 L440.43 47.17 L455.31 57.50 L467.30 66.27 L478.48 74.77 L488.80 83.49 L502.77 96.67 L513.79 108.77 L521.75 118.19 L535.29 135.51 L548.78 154.13 L560.83 173.06 L566.74 183.55 L576.31 202.60 L585.55 221.21 L592.91 239.24 L593.88 242.57 L604.36 264.90 L618.88 276.47 L651.39 291.10 L676.76 291.10 L677.73 300.30 L359.80 300.30 Z"/></clipPath>
<path d="M359.80 20.00 L418.39 35.60 L426.72 72.73 L428.60 39.37 L440.43 47.17 L455.31 57.50 L467.30 66.27 L478.48 74.77 L488.80 83.49 L502.77 96.67 L513.79 108.77 L521.75 118.19 L535.29 135.51 L548.78 154.13 L560.83 173.06 L566.74 183.55 L576.31 202.60 L585.55 221.21 L592.91 239.24 L593.88 242.57 L604.36 264.90 L618.88 276.47 L651.39 291.10 L676.76 291.10 L677.73 300.30 L359.80 300.30 Z" fill="#ff8080"/>
<path d="M349.05 241.66 L359.80 241.66 L539.86 257.26 L603.29 264.95 L682.30 265.33 L682.35 -76.30 L349.05 -76.30 Z" fill="#ffb480" clip-path="url(#csb)"/>
<path d="M349.05 214.38 L359.80 214.38 L515.14 227.67 L539.86 230.52 L572.65 233.80 L577.49 228.75 L579.64 223.37 L581.79 219.60 L682.30 219.60 L682.35 -76.30 L349.05 -76.30 Z" fill="#ffea80" clip-path="url(#csb)"/>
<path d="M349.05 189.74 L359.80 189.74 L389.36 191.62 L400.11 197.00 L515.14 208.57 L529.11 209.38 L537.17 205.61 L566.74 205.07 L682.30 205.07 L682.35 -76.30 L349.05 -76.30 Z" fill="#d6ff80" clip-path="url(#csb)"/>
<path d="M349.05 165.80 L359.80 165.80 L515.14 178.17 L550.61 178.17 L682.30 178.17 L682.35 -76.30 L349.05 -76.30 Z" fill="#a0ff80" clip-path="url(#csb)"/>
<path d="M349.05 145.36 L359.80 145.36 L515.14 150.74 L542.55 152.35 L682.30 152.35 L682.35 -76.30 L349.05 -76.30 Z" fill="#80ff9a" clip-path="url(#csb)"/>
<path d="M349.05 121.68 L359.80 121.68 L515.14 127.06 L526.42 128.14 L682.30 128.14 L682.35 -76.30 L349.05 -76.30 Z" fill="#80ffd2" clip-path="url(#csb)"/>
<path d="M349.05 94.78 L359.80 94.78 L510.30 99.63 L682.30 99.63 L682.35 -76.30 L349.05 -76.30 Z" fill="#80ffff" clip-path="url(#csb)"/>
<clipPath id="clb"><path d="M359.80 20.00 L418.39 35.60 L426.72 72.73 L413.17 40.98 L359.80 25.92 Z M426.72 72.73 L428.60 39.37 L440.43 47.17 L455.31 57.50 L467.30 66.27 L478.48 74.77 L488.80 83.49 L502.77 96.67 L513.79 108.77 L521.75 118.19 L535.29 135.51 L548.78 154.13 L560.83 173.06 L566.74 183.55 L576.31 202.60 L585.55 221.21 L592.91 239.24 L592.91 239.24 L587.97 239.24 L581.05 223.26 L571.88 204.81 L562.36 185.85 L556.60 175.64 L544.70 156.91 L531.34 138.49 L517.81 121.36 L509.82 112.28 L498.80 100.61 L484.83 87.89 L474.64 79.57 L463.50 71.37 L435.05 53.09 Z"/></clipPath>
<clipPath id="cLb"><path d="M349.05 -76.30 L426.72 -76.30 L426.72 72.73 L463.00 132.98 L503.31 184.63 L542.01 215.83 L349.05 219.60 Z"/></clipPath>
<clipPath id="cRb"><path d="M736.05 -76.30 L426.72 -76.30 L426.72 72.73 L463.00 132.98 L503.31 184.63 L542.01 215.83 L578.78 242.57 L593.88 242.57 L736.05 246.50 Z"/></clipPath>
<clipPath id="cib"><path clip-rule="evenodd" d="M359.80 20.00 L418.39 35.60 L426.72 72.73 L428.60 39.37 L440.43 47.17 L455.31 57.50 L467.30 66.27 L478.48 74.77 L488.80 83.49 L502.77 96.67 L513.79 108.77 L521.75 118.19 L535.29 135.51 L548.78 154.13 L560.83 173.06 L566.74 183.55 L576.31 202.60 L585.55 221.21 L592.91 239.24 L593.88 242.57 L604.36 264.90 L618.88 276.47 L651.39 291.10 L676.76 291.10 L677.73 300.30 L359.80 300.30 Z M359.80 20.00 L418.39 35.60 L426.72 72.73 L413.17 40.98 L359.80 25.92 Z M426.72 72.73 L428.60 39.37 L440.43 47.17 L455.31 57.50 L467.30 66.27 L478.48 74.77 L488.80 83.49 L502.77 96.67 L513.79 108.77 L521.75 118.19 L535.29 135.51 L548.78 154.13 L560.83 173.06 L566.74 183.55 L576.31 202.60 L585.55 221.21 L592.91 239.24 L592.91 239.24 L587.97 239.24 L581.05 223.26 L571.88 204.81 L562.36 185.85 L556.60 175.64 L544.70 156.91 L531.34 138.49 L517.81 121.36 L509.82 112.28 L498.80 100.61 L484.83 87.89 L474.64 79.57 L463.50 71.37 L435.05 53.09 Z"/></clipPath>
<path d="M354.43 67.35 L411.40 67.35 L414.09 52.82 L413.55 -22.50 L354.43 -22.50 Z" fill="#78b4fa" clip-path="url(#csb)" />
<path d="M436.12 67.35 L436.12 47.44 L467.30 47.44 L456.55 67.35 Z" fill="#78b4fa" clip-path="url(#csb)" />
<path d="M413.17 40.98 L412.58 51.37 L411.94 57.66 L413.82 66.49 L418.82 75.25 L425.11 80.26 L430.11 75.25 L426.72 72.73 L413.17 40.98 Z" fill="#80ff9a" clip-path="url(#cib)" />
<path d="M413.17 40.98 L414.20 50.68 L414.62 56.51 L417.11 65.08 L421.70 74.02 L425.72 77.40 L428.82 74.29 L426.72 72.73 L413.17 40.98 Z" fill="#d6ff80" clip-path="url(#cib)" />
<path d="M413.17 40.98 L415.05 50.31 L416.03 55.91 L418.84 64.34 L423.22 73.37 L426.04 75.89 L428.14 73.79 L426.72 72.73 L413.17 40.98 Z" fill="#ffea80" clip-path="url(#cib)" />
<path d="M413.17 40.98 L415.90 49.95 L417.45 55.31 L420.57 63.60 L424.74 72.72 L426.36 74.38 L427.46 73.28 L426.72 72.73 L413.17 40.98 Z" fill="#ffb480" clip-path="url(#cib)" />
<g clip-path="url(#cRb)">
<path d="M426.72 72.73 L435.05 53.09" fill="none" stroke="#80ffff" stroke-width="5.91" stroke-linejoin="round" stroke-linecap="butt" clip-path="url(#cib)" />
<path d="M426.72 72.73 L435.05 53.09" fill="none" stroke="#80ff9a" stroke-width="4.30" stroke-linejoin="round" stroke-linecap="butt" clip-path="url(#cib)" />
<path d="M426.72 72.73 L435.05 53.09" fill="none" stroke="#d6ff80" stroke-width="2.37" stroke-linejoin="round" stroke-linecap="butt" clip-path="url(#cib)" />
</g>
<path d="M359.80 20.00 L418.39 35.60 L426.72 72.73 L428.60 39.37 L440.43 47.17 L455.31 57.50 L467.30 66.27 L478.48 74.77 L488.80 83.49 L502.77 96.67 L513.79 108.77 L521.75 118.19 L535.29 135.51 L548.78 154.13 L560.83 173.06 L566.74 183.55 L576.31 202.60 L585.55 221.21 L592.91 239.24" fill="none" stroke="#80ffff" stroke-width="10.54" stroke-linejoin="round" stroke-linecap="round" clip-path="url(#clb)" />
<path d="M359.80 20.00 L418.39 35.60 L426.72 72.73 L428.60 39.37 L440.43 47.17 L455.31 57.50 L467.30 66.27 L478.48 74.77 L488.80 83.49 L502.77 96.67 L513.79 108.77 L521.75 118.19 L535.29 135.51 L548.78 154.13 L560.83 173.06 L566.74 183.55 L576.31 202.60 L585.55 221.21 L592.91 239.24" fill="none" stroke="#80ff9a" stroke-width="8.60" stroke-linejoin="round" stroke-linecap="round" clip-path="url(#clb)" />
<path d="M359.80 20.00 L418.39 35.60 L426.72 72.73 L428.60 39.37 L440.43 47.17 L455.31 57.50 L467.30 66.27 L478.48 74.77 L488.80 83.49 L502.77 96.67 L513.79 108.77 L521.75 118.19 L535.29 135.51 L548.78 154.13 L560.83 173.06 L566.74 183.55 L576.31 202.60 L585.55 221.21 L592.91 239.24" fill="none" stroke="#d6ff80" stroke-width="6.67" stroke-linejoin="round" stroke-linecap="round" clip-path="url(#clb)" />
<path d="M359.80 20.00 L418.39 35.60 L426.72 72.73 L428.60 39.37 L440.43 47.17 L455.31 57.50 L467.30 66.27 L478.48 74.77 L488.80 83.49 L502.77 96.67 L513.79 108.77 L521.75 118.19 L535.29 135.51 L548.78 154.13 L560.83 173.06 L566.74 183.55 L576.31 202.60 L585.55 221.21 L592.91 239.24" fill="none" stroke="#ffea80" stroke-width="4.84" stroke-linejoin="round" stroke-linecap="round" clip-path="url(#clb)" />
<path d="M359.80 20.00 L418.39 35.60 L426.72 72.73 L428.60 39.37 L440.43 47.17 L455.31 57.50 L467.30 66.27 L478.48 74.77 L488.80 83.49 L502.77 96.67 L513.79 108.77 L521.75 118.19 L535.29 135.51 L548.78 154.13 L560.83 173.06 L566.74 183.55 L576.31 202.60 L585.55 221.21 L592.91 239.24" fill="none" stroke="#ffb480" stroke-width="3.01" stroke-linejoin="round" stroke-linecap="round" clip-path="url(#clb)" />
<path d="M521.05 195.39 L682.30 195.39 L682.30 246.50 L521.05 246.50 Z" fill="#ffb480" clip-path="url(#clb)" />
<path d="M521.05 155.04 L682.30 155.04 L682.30 195.39 L521.05 195.39 Z" fill="#ffea80" clip-path="url(#clb)" />
<path d="M548.78 154.13 L560.83 173.06 L566.74 183.55 L576.31 202.60" fill="none" stroke="#ffb480" stroke-width="4.30" stroke-linejoin="round" stroke-linecap="round" clip-path="url(#clb)" />
<path d="M418.39 35.60 L426.72 72.73 L416.78 49.59 L415.16 37.49 Z" fill="#ffb480" clip-path="url(#clb)" />
<path d="M359.80 20.00 L418.39 35.60 L426.72 72.73 L428.60 39.37 L440.43 47.17 L455.31 57.50 L467.30 66.27 L478.48 74.77 L488.80 83.49 L502.77 96.67 L513.79 108.77 L521.75 118.19 L535.29 135.51 L548.78 154.13 L560.83 173.06 L566.74 183.55 L576.31 202.60 L585.55 221.21 L592.91 239.24 L593.88 242.57 L604.36 264.90 L618.88 276.47 L651.39 291.10 L676.76 291.10 L677.73 300.30" fill="none" stroke="#141414" stroke-width="1.1" stroke-linejoin="miter"/>
<path d="M359.80 25.92 L413.17 40.98 L426.72 72.73" fill="none" stroke="#141414" stroke-width="1.1" stroke-linejoin="miter"/>
<path d="M426.72 72.73 L435.05 53.09 L463.50 71.37 L474.64 79.57 L484.83 87.89 L498.80 100.61 L509.82 112.28 L517.81 121.36 L531.34 138.49 L544.70 156.91 L556.60 175.64 L562.36 185.85 L571.88 204.81 L581.05 223.26 L587.97 239.24 L592.91 239.24" fill="none" stroke="#141414" stroke-width="1.1" stroke-linejoin="miter"/>
<path d="M426.72 72.73 L463.00 132.98 L503.31 184.63 L542.01 215.83 L578.78 242.57 L593.88 242.57" fill="none" stroke="#141414" stroke-width="1.1" stroke-linejoin="miter"/>
<path d="M378.29 98.82 L444.14 102.09 L448.11 108.70 L380.06 105.92 Z" fill="none" stroke="#141414" stroke-width="1.1" stroke-linejoin="miter"/>
<path d="M448.23 102.29 L502.96 105.01 L508.78 111.17 L452.40 108.87 Z" fill="none" stroke="#141414" stroke-width="1.1" stroke-linejoin="miter"/>
<path d="M383.83 122.28 L458.32 125.64 L462.53 132.64 L385.60 129.27 Z" fill="none" stroke="#141414" stroke-width="1.1" stroke-linejoin="miter"/>
<path d="M463.15 125.86 L523.52 128.58 L529.02 135.54 L467.58 132.86 Z" fill="none" stroke="#141414" stroke-width="1.1" stroke-linejoin="miter"/>
<path d="M390.60 148.21 L477.57 151.98 L483.91 160.10 L392.59 155.74 Z" fill="none" stroke="#141414" stroke-width="1.1" stroke-linejoin="miter"/>
<path d="M482.93 152.22 L543.19 154.83 L548.69 163.20 L489.39 160.36 Z" fill="none" stroke="#141414" stroke-width="1.1" stroke-linejoin="miter"/>
<path d="M400.92 189.69 L516.10 195.14 L526.59 203.60 L402.10 197.22 Z" fill="none" stroke="#141414" stroke-width="1.1" stroke-linejoin="miter"/>
<path d="M523.28 195.48 L568.27 197.61 L572.45 205.95 L534.56 204.01 Z" fill="none" stroke="#141414" stroke-width="1.1" stroke-linejoin="miter"/>
<g font-family='"Liberation Sans", sans-serif' fill="#111">
<path d="M359.80 3.40 V300.30 H682.30" fill="none" stroke="#222" stroke-width="0.8"/>
<path d="M359.80 300.30 v-4" stroke="#333" stroke-width="0.6"/>
<text x="359.80" y="307.30" font-size="4.3" text-anchor="middle">0</text>
<path d="M413.55 300.30 v-4" stroke="#333" stroke-width="0.6"/>
<text x="413.55" y="307.30" font-size="4.3" text-anchor="middle">10</text>
<path d="M467.30 300.30 v-4" stroke="#333" stroke-width="0.6"/>
<text x="467.30" y="307.30" font-size="4.3" text-anchor="middle">20</text>
<path d="M521.05 300.30 v-4" stroke="#333" stroke-width="0.6"/>
<text x="521.05" y="307.30" font-size="4.3" text-anchor="middle">30</text>
<path d="M574.80 300.30 v-4" stroke="#333" stroke-width="0.6"/>
<text x="574.80" y="307.30" font-size="4.3" text-anchor="middle">40</text>
<path d="M628.55 300.30 v-4" stroke="#333" stroke-width="0.6"/>
<text x="628.55" y="307.30" font-size="4.3" text-anchor="middle">50</text>
<path d="M682.30 300.30 v-4" stroke="#333" stroke-width="0.6"/>
<text x="682.30" y="307.30" font-size="4.3" text-anchor="middle">60</text>
<path d="M359.80 300.30 h4" stroke="#555" stroke-width="0.6"/>
<text x="357.00" y="301.80" font-size="4.3" text-anchor="end">0</text>
<path d="M359.80 273.40 h4" stroke="#555" stroke-width="0.6"/>
<text x="357.00" y="274.90" font-size="4.3" text-anchor="end">5</text>
<path d="M359.80 246.50 h4" stroke="#555" stroke-width="0.6"/>
<text x="357.00" y="248.00" font-size="4.3" text-anchor="end">10</text>
<path d="M359.80 219.60 h4" stroke="#555" stroke-width="0.6"/>
<text x="357.00" y="221.10" font-size="4.3" text-anchor="end">15</text>
<path d="M359.80 192.70 h4" stroke="#555" stroke-width="0.6"/>
<text x="357.00" y="194.20" font-size="4.3" text-anchor="end">20</text>
<path d="M359.80 165.80 h4" stroke="#555" stroke-width="0.6"/>
<text x="357.00" y="167.30" font-size="4.3" text-anchor="end">25</text>
<path d="M359.80 138.90 h4" stroke="#555" stroke-width="0.6"/>
<text x="357.00" y="140.40" font-size="4.3" text-anchor="end">30</text>
<path d="M359.80 112.00 h4" stroke="#555" stroke-width="0.6"/>
<text x="357.00" y="113.50" font-size="4.3" text-anchor="end">35</text>
<path d="M359.80 85.10 h4" stroke="#555" stroke-width="0.6"/>
<text x="357.00" y="86.60" font-size="4.3" text-anchor="end">40</text>
<path d="M359.80 58.20 h4" stroke="#555" stroke-width="0.6"/>
<text x="357.00" y="59.70" font-size="4.3" text-anchor="end">45</text>
<path d="M359.80 31.30 h4" stroke="#555" stroke-width="0.6"/>
<text x="357.00" y="32.80" font-size="4.3" text-anchor="end">50</text>
<path d="M359.80 4.40 h4" stroke="#555" stroke-width="0.6"/>
<text x="357.00" y="5.90" font-size="4.3" text-anchor="end">55</text>
<text x="510.85" y="318.10" font-size="7.0" textLength="21.4" lengthAdjust="spacingAndGlyphs">Distance</text>
<text transform="translate(348.80 151.65) rotate(-90)" x="-11.6" font-size="7.0" textLength="23.2" lengthAdjust="spacingAndGlyphs">Elevation</text>
</g>
<g font-family='"Liberation Serif", serif' font-size="6.55" fill="#111" stroke="#111" stroke-width="0.12">
<text x="377.5" y="20.8">Runoff infiltration</text>
<text x="436.5" y="33.2">Sinkhole</text>
</g>
<path d="M442.5 36.2 L424.5 48.5" stroke="#111" stroke-width="0.75" fill="none"/>
<path d="M424.5 48.5 L426.5 45.7 L427.9 47.6 Z" fill="#111"/>
<g font-family='"Liberation Serif", serif' font-size="6.55" fill="#111" stroke="#111" stroke-width="0.12">
<text x="498.5" y="79.5">Slip surface</text>
</g>
<path d="M498.5 83.0 L443.5 99.0" stroke="#111" stroke-width="0.75" fill="none"/>
<path d="M443.5 99.0 L446.3 96.9 L447.0 99.2 Z" fill="#111"/>
<g font-family='"Liberation Serif", serif' font-size="6.55" fill="#111" stroke="#111" stroke-width="0.12">
<text x="524.5" y="111.1">Loess landslide</text>
</g>
<path d="M530.5 112.5 L512.0 122.5" stroke="#111" stroke-width="0.75" fill="none"/>
<path d="M512.0 122.5 L514.3 119.9 L515.5 122.0 Z" fill="#111"/>
<g font-family='"Liberation Serif", serif' font-size="6.55" fill="#111" stroke="#111" stroke-width="0.12">
<text x="409.0" y="143.6">Slip surface</text>
</g>
<path d="M441.0 141.0 L462.0 134.2" stroke="#111" stroke-width="0.75" fill="none"/>
<path d="M462.0 134.2 L459.2 136.4 L458.5 134.1 Z" fill="#111"/>
<g font-family='"Liberation Serif", serif' font-size="6.55" fill="#111" stroke="#111" stroke-width="0.12">
<text x="381.0" y="177.5">Gravel</text>
</g>
<path d="M401.0 174.8 L414.0 153.5" stroke="#111" stroke-width="0.75" fill="none"/>
<path d="M414.0 153.5 L413.3 156.9 L411.3 155.7 Z" fill="#111"/>
<g font-family='"Liberation Serif", serif' font-size="6.55" fill="#111" stroke="#111" stroke-width="0.12">
<text x="565.5" y="159.5">Surface freeze-thaw zone</text>
</g>
<path d="M586.5 163.5 L556.0 172.5" stroke="#111" stroke-width="0.75" fill="none"/>
<path d="M556.0 172.5 L558.8 170.4 L559.5 172.7 Z" fill="#111"/>
<g font-family='"Liberation Serif", serif' font-size="6.55" fill="#111" stroke="#111" stroke-width="0.12">
<text x="590.0" y="233.0">Landslide shear export</text>
</g>
<text x="532.0" y="45.0" font-family='"Liberation Serif", serif' font-weight="bold" font-size="18" fill="#111">(b)</text>
</g>
<path d="M381.0 23.5 L401.5 29.0" stroke="#3a6fd8" stroke-width="0.50" fill="none"/>
<path d="M401.5 29.0 L398.9 29.2 L399.4 27.5 Z" fill="#3a6fd8"/>
<path d="M594.0 239.6 L611.0 239.6" stroke="#3a6fd8" stroke-width="0.50" fill="none"/>
<path d="M611.0 239.6 L608.6 240.5 L608.6 238.7 Z" fill="#3a6fd8"/>
<g>
<rect x="591.6" y="14.0" width="68.2" height="104.6" fill="#fff" stroke="#c4c4c4" stroke-width="0.7"/>
<text x="597.7" y="26.9" font-family='"Liberation Serif", serif' font-size="6.50" fill="#111" stroke="#111" stroke-width="0.12">Pore water pressure</text>
<rect x="596.1" y="34.2" width="5.6" height="5.6" fill="#78b4fa" stroke="#6f8080" stroke-width="0.5"/>
<text x="604.5" y="39.6" font-family='"Liberation Sans", sans-serif' font-size="7.3" fill="#111" stroke="#111" stroke-width="0.1" textLength="48.9" lengthAdjust="spacingAndGlyphs">≤ -400 - -350 kPa</text>
<rect x="596.1" y="43.2" width="5.6" height="5.6" fill="#80ffff" stroke="#6f8080" stroke-width="0.5"/>
<text x="604.5" y="48.6" font-family='"Liberation Sans", sans-serif' font-size="7.3" fill="#111" stroke="#111" stroke-width="0.1" textLength="43.7" lengthAdjust="spacingAndGlyphs">-350 - -300 kPa</text>
<rect x="596.1" y="52.3" width="5.6" height="5.6" fill="#80ffd2" stroke="#6f8080" stroke-width="0.5"/>
<text x="604.5" y="57.7" font-family='"Liberation Sans", sans-serif' font-size="7.3" fill="#111" stroke="#111" stroke-width="0.1" textLength="43.7" lengthAdjust="spacingAndGlyphs">-300 - -250 kPa</text>
<rect x="596.1" y="61.3" width="5.6" height="5.6" fill="#80ff9a" stroke="#6f8080" stroke-width="0.5"/>
<text x="604.5" y="66.7" font-family='"Liberation Sans", sans-serif' font-size="7.3" fill="#111" stroke="#111" stroke-width="0.1" textLength="43.7" lengthAdjust="spacingAndGlyphs">-250 - -200 kPa</text>
<rect x="596.1" y="70.4" width="5.6" height="5.6" fill="#a0ff80" stroke="#6f8080" stroke-width="0.5"/>
<text x="604.5" y="75.8" font-family='"Liberation Sans", sans-serif' font-size="7.3" fill="#111" stroke="#111" stroke-width="0.1" textLength="43.7" lengthAdjust="spacingAndGlyphs">-200 - -150 kPa</text>
<rect x="596.1" y="79.4" width="5.6" height="5.6" fill="#d6ff80" stroke="#6f8080" stroke-width="0.5"/>
<text x="604.5" y="84.8" font-family='"Liberation Sans", sans-serif' font-size="7.3" fill="#111" stroke="#111" stroke-width="0.1" textLength="43.7" lengthAdjust="spacingAndGlyphs">-150 - -100 kPa</text>
<rect x="596.1" y="88.4" width="5.6" height="5.6" fill="#ffea80" stroke="#6f8080" stroke-width="0.5"/>
<text x="604.5" y="93.8" font-family='"Liberation Sans", sans-serif' font-size="7.3" fill="#111" stroke="#111" stroke-width="0.1" textLength="40.1" lengthAdjust="spacingAndGlyphs">-100 - -50 kPa</text>
<rect x="596.1" y="97.5" width="5.6" height="5.6" fill="#ffb480" stroke="#6f8080" stroke-width="0.5"/>
<text x="604.5" y="102.9" font-family='"Liberation Sans", sans-serif' font-size="7.3" fill="#111" stroke="#111" stroke-width="0.1" textLength="31.0" lengthAdjust="spacingAndGlyphs">-50 - 0 kPa</text>
<rect x="596.1" y="106.5" width="5.6" height="5.6" fill="#ff8080" stroke="#6f8080" stroke-width="0.5"/>
<text x="604.5" y="111.9" font-family='"Liberation Sans", sans-serif' font-size="7.3" fill="#111" stroke="#111" stroke-width="0.1" textLength="21.4" lengthAdjust="spacingAndGlyphs">≥ 0 kPa</text>
</g>
<g id="pc">
<clipPath id="csc"><path d="M21.30 338.63 L79.34 354.06 L87.60 390.76 L89.46 357.78 L101.17 365.49 L115.93 375.71 L127.80 384.38 L138.88 392.79 L149.10 401.40 L162.95 414.44 L173.86 426.41 L181.74 435.72 L195.16 452.85 L208.53 471.26 L220.46 489.98 L226.31 500.36 L235.79 519.19 L244.95 537.60 L252.25 555.42 L253.20 558.72 L263.59 580.79 L277.97 592.23 L310.18 606.70 L335.32 606.70 L336.27 615.80 L21.30 615.80 Z"/></clipPath>
<path d="M21.30 338.63 L79.34 354.06 L87.60 390.76 L89.46 357.78 L101.17 365.49 L115.93 375.71 L127.80 384.38 L138.88 392.79 L149.10 401.40 L162.95 414.44 L173.86 426.41 L181.74 435.72 L195.16 452.85 L208.53 471.26 L220.46 489.98 L226.31 500.36 L235.79 519.19 L244.95 537.60 L252.25 555.42 L253.20 558.72 L263.59 580.79 L277.97 592.23 L310.18 606.70 L335.32 606.70 L336.27 615.80 L21.30 615.80 Z" fill="#ff8080"/>
<path d="M10.65 557.81 L21.30 557.81 L199.69 573.24 L262.52 580.85 L340.80 581.22 L340.85 243.40 L10.65 243.40 Z" fill="#ffb480" clip-path="url(#csc)"/>
<path d="M10.65 530.84 L21.30 530.84 L175.19 543.98 L199.69 546.80 L227.91 549.57 L232.70 547.17 L234.03 533.34 L232.17 524.30 L235.37 521.10 L340.80 521.10 L340.85 243.40 L10.65 243.40 Z" fill="#ffea80" clip-path="url(#csc)"/>
<path d="M10.65 506.47 L21.30 506.47 L50.59 508.34 L61.24 513.66 L175.19 525.09 L189.04 525.89 L197.03 522.17 L226.31 521.64 L340.80 521.64 L340.85 243.40 L10.65 243.40 Z" fill="#d6ff80" clip-path="url(#csc)"/>
<path d="M10.65 482.80 L21.30 482.80 L175.19 495.04 L210.34 495.04 L340.80 495.04 L340.85 243.40 L10.65 243.40 Z" fill="#a0ff80" clip-path="url(#csc)"/>
<path d="M10.65 462.58 L21.30 462.58 L175.19 467.90 L202.35 469.50 L340.80 469.50 L340.85 243.40 L10.65 243.40 Z" fill="#80ff9a" clip-path="url(#csc)"/>
<path d="M10.65 438.11 L21.30 438.11 L175.19 443.43 L186.38 444.50 L340.80 444.50 L340.85 243.40 L10.65 243.40 Z" fill="#80ffd2" clip-path="url(#csc)"/>
<path d="M10.65 413.64 L21.30 413.64 L159.75 416.83 L165.08 422.68 L340.80 422.68 L340.85 243.40 L10.65 243.40 Z" fill="#80ffff" clip-path="url(#csc)"/>
<clipPath id="clc"><path d="M21.30 338.63 L79.34 354.06 L87.60 390.76 L74.18 359.38 L21.30 344.48 Z M87.60 390.76 L89.46 357.78 L101.17 365.49 L115.93 375.71 L127.80 384.38 L138.88 392.79 L149.10 401.40 L162.95 414.44 L173.86 426.41 L181.74 435.72 L195.16 452.85 L208.53 471.26 L220.46 489.98 L226.31 500.36 L235.79 519.19 L244.95 537.60 L252.25 555.42 L252.25 555.42 L247.35 555.42 L240.49 539.62 L231.41 521.38 L221.97 502.63 L216.27 492.53 L204.48 474.01 L191.25 455.79 L177.84 438.86 L169.93 429.88 L159.00 418.33 L145.17 405.76 L135.07 397.53 L124.04 389.43 L95.85 371.35 Z"/></clipPath>
<clipPath id="cLc"><path d="M10.65 243.40 L87.60 243.40 L87.60 390.76 L123.54 450.35 L163.48 501.42 L201.82 532.28 L10.65 536.00 Z"/></clipPath>
<clipPath id="cRc"><path d="M394.05 243.40 L87.60 243.40 L87.60 390.76 L123.54 450.35 L163.48 501.42 L201.82 532.28 L238.24 558.72 L253.20 558.72 L394.05 562.60 Z"/></clipPath>
<clipPath id="cic"><path clip-rule="evenodd" d="M21.30 338.63 L79.34 354.06 L87.60 390.76 L89.46 357.78 L101.17 365.49 L115.93 375.71 L127.80 384.38 L138.88 392.79 L149.10 401.40 L162.95 414.44 L173.86 426.41 L181.74 435.72 L195.16 452.85 L208.53 471.26 L220.46 489.98 L226.31 500.36 L235.79 519.19 L244.95 537.60 L252.25 555.42 L253.20 558.72 L263.59 580.79 L277.97 592.23 L310.18 606.70 L335.32 606.70 L336.27 615.80 L21.30 615.80 Z M21.30 338.63 L79.34 354.06 L87.60 390.76 L74.18 359.38 L21.30 344.48 Z M87.60 390.76 L89.46 357.78 L101.17 365.49 L115.93 375.71 L127.80 384.38 L138.88 392.79 L149.10 401.40 L162.95 414.44 L173.86 426.41 L181.74 435.72 L195.16 452.85 L208.53 471.26 L220.46 489.98 L226.31 500.36 L235.79 519.19 L244.95 537.60 L252.25 555.42 L252.25 555.42 L247.35 555.42 L240.49 539.62 L231.41 521.38 L221.97 502.63 L216.27 492.53 L204.48 474.01 L191.25 455.79 L177.84 438.86 L169.93 429.88 L159.00 418.33 L145.17 405.76 L135.07 397.53 L124.04 389.43 L95.85 371.35 Z"/></clipPath>
<path d="M15.98 385.98 L74.55 385.98 L75.61 371.08 L70.29 362.57 L26.62 349.80 L15.98 348.20 Z" fill="#78b4fa" clip-path="url(#csc)" />
<path d="M97.45 381.72 L100.64 372.68 L108.10 378.00 L104.90 387.04 Z" fill="#8cc4fb" clip-path="url(#csc)" />
<path d="M70.29 358.31 L68.69 360.44 L71.62 367.99 L73.80 378.21 L78.17 388.42 L84.03 397.15 L91.32 395.71 L94.78 390.76 L87.60 390.76 L74.18 359.38 Z" fill="#80ff9a" clip-path="url(#cic)" />
<path d="M71.77 358.72 L70.78 360.04 L73.63 367.14 L76.51 377.05 L80.88 387.27 L85.38 394.72 L89.91 393.83 L92.05 390.76 L87.60 390.76 L74.18 359.38 Z" fill="#d6ff80" clip-path="url(#cic)" />
<path d="M72.43 358.90 L71.71 359.85 L74.52 366.76 L77.72 376.54 L82.09 386.75 L85.99 393.64 L89.27 392.99 L90.83 390.76 L87.60 390.76 L74.18 359.38 Z" fill="#ffea80" clip-path="url(#cic)" />
<path d="M73.13 359.09 L72.70 359.66 L75.47 366.35 L79.01 375.99 L83.37 386.20 L86.63 392.49 L88.60 392.10 L89.54 390.76 L87.60 390.76 L74.18 359.38 Z" fill="#ffb480" clip-path="url(#cic)" />
<path d="M73.87 359.29 L73.74 359.46 L76.48 365.92 L80.36 375.41 L84.73 385.63 L87.31 391.27 L87.89 391.16 L88.17 390.76 L87.60 390.76 L74.18 359.38 Z" fill="#ff8080" clip-path="url(#cic)" />
<g clip-path="url(#cRc)">
<path d="M87.60 390.76 L95.85 371.35" fill="none" stroke="#80ffff" stroke-width="8.52" stroke-linejoin="round" stroke-linecap="butt" clip-path="url(#cic)" />
<path d="M87.60 390.76 L95.85 371.35" fill="none" stroke="#80ff9a" stroke-width="5.86" stroke-linejoin="round" stroke-linecap="butt" clip-path="url(#cic)" />
<path d="M87.60 390.76 L95.85 371.35" fill="none" stroke="#d6ff80" stroke-width="3.19" stroke-linejoin="round" stroke-linecap="butt" clip-path="url(#cic)" />
</g>
<path d="M177.84 438.86 L191.25 455.79 L204.48 474.01" fill="none" stroke="#a0ff80" stroke-width="6.39" stroke-linejoin="round" stroke-linecap="round" clip-path="url(#cic)" />
<path d="M177.84 438.86 L191.25 455.79 L204.48 474.01" fill="none" stroke="#d6ff80" stroke-width="3.19" stroke-linejoin="round" stroke-linecap="round" clip-path="url(#cic)" />
<path d="M216.27 492.53 L221.97 502.63 L231.41 521.38 L240.49 539.62 L247.35 555.42 L252.25 555.42" fill="none" stroke="#ffea80" stroke-width="5.86" stroke-linejoin="round" stroke-linecap="round" clip-path="url(#cic)" />
<path d="M216.27 492.53 L221.97 502.63 L231.41 521.38 L240.49 539.62 L247.35 555.42 L252.25 555.42" fill="none" stroke="#ffb480" stroke-width="3.19" stroke-linejoin="round" stroke-linecap="round" clip-path="url(#cic)" />
<path d="M21.30 338.63 L79.34 354.06 L87.60 390.76 L89.46 357.78 L101.17 365.49 L115.93 375.71 L127.80 384.38 L138.88 392.79 L149.10 401.40 L162.95 414.44 L173.86 426.41 L181.74 435.72 L195.16 452.85 L208.53 471.26 L220.46 489.98 L226.31 500.36 L235.79 519.19 L244.95 537.60 L252.25 555.42" fill="none" stroke="#80ffff" stroke-width="10.44" stroke-linejoin="round" stroke-linecap="round" clip-path="url(#clc)" />
<path d="M21.30 338.63 L79.34 354.06 L87.60 390.76 L89.46 357.78 L101.17 365.49 L115.93 375.71 L127.80 384.38 L138.88 392.79 L149.10 401.40 L162.95 414.44 L173.86 426.41 L181.74 435.72 L195.16 452.85 L208.53 471.26 L220.46 489.98 L226.31 500.36 L235.79 519.19 L244.95 537.60 L252.25 555.42" fill="none" stroke="#80ff9a" stroke-width="8.73" stroke-linejoin="round" stroke-linecap="round" clip-path="url(#clc)" />
<path d="M21.30 338.63 L79.34 354.06 L87.60 390.76 L89.46 357.78 L101.17 365.49 L115.93 375.71 L127.80 384.38 L138.88 392.79 L149.10 401.40 L162.95 414.44 L173.86 426.41 L181.74 435.72 L195.16 452.85 L208.53 471.26 L220.46 489.98 L226.31 500.36 L235.79 519.19 L244.95 537.60 L252.25 555.42" fill="none" stroke="#d6ff80" stroke-width="7.03" stroke-linejoin="round" stroke-linecap="round" clip-path="url(#clc)" />
<path d="M21.30 338.63 L79.34 354.06 L87.60 390.76 L89.46 357.78 L101.17 365.49 L115.93 375.71 L127.80 384.38 L138.88 392.79 L149.10 401.40 L162.95 414.44 L173.86 426.41 L181.74 435.72 L195.16 452.85 L208.53 471.26 L220.46 489.98 L226.31 500.36 L235.79 519.19 L244.95 537.60 L252.25 555.42" fill="none" stroke="#ffea80" stroke-width="5.33" stroke-linejoin="round" stroke-linecap="round" clip-path="url(#clc)" />
<path d="M21.30 338.63 L79.34 354.06 L87.60 390.76 L89.46 357.78 L101.17 365.49 L115.93 375.71 L127.80 384.38 L138.88 392.79 L149.10 401.40 L162.95 414.44 L173.86 426.41 L181.74 435.72 L195.16 452.85 L208.53 471.26 L220.46 489.98 L226.31 500.36 L235.79 519.19 L244.95 537.60 L252.25 555.42" fill="none" stroke="#ffb480" stroke-width="3.41" stroke-linejoin="round" stroke-linecap="round" clip-path="url(#clc)" />
<path d="M181.05 512.06 L340.80 512.06 L340.80 562.60 L181.05 562.60 Z" fill="#ffb480" clip-path="url(#clc)" />
<path d="M181.05 456.20 L340.80 456.20 L340.80 512.06 L181.05 512.06 Z" fill="#ffea80" clip-path="url(#clc)" />
<path d="M195.16 452.85 L208.53 471.26 L220.46 489.98 L226.31 500.36 L235.79 519.19" fill="none" stroke="#ffb480" stroke-width="4.79" stroke-linejoin="round" stroke-linecap="round" clip-path="url(#clc)" />
<path d="M79.34 354.06 L87.60 390.76 L76.68 365.23 L75.61 355.65 Z" fill="#ffb480" clip-path="url(#clc)" />
<path d="M85.47 381.19 L87.60 390.76 L83.87 382.25 Z" fill="#ff8080" clip-path="url(#clc)" />
<path d="M21.30 338.63 L79.34 354.06 L87.60 390.76 L89.46 357.78 L101.17 365.49 L115.93 375.71 L127.80 384.38 L138.88 392.79 L149.10 401.40 L162.95 414.44 L173.86 426.41 L181.74 435.72 L195.16 452.85 L208.53 471.26 L220.46 489.98 L226.31 500.36 L235.79 519.19 L244.95 537.60 L252.25 555.42 L253.20 558.72 L263.59 580.79 L277.97 592.23 L310.18 606.70 L335.32 606.70 L336.27 615.80" fill="none" stroke="#141414" stroke-width="1.1" stroke-linejoin="miter"/>
<path d="M21.30 344.48 L74.18 359.38 L87.60 390.76" fill="none" stroke="#141414" stroke-width="1.1" stroke-linejoin="miter"/>
<path d="M87.60 390.76 L95.85 371.35 L124.04 389.43 L135.07 397.53 L145.17 405.76 L159.00 418.33 L169.93 429.88 L177.84 438.86 L191.25 455.79 L204.48 474.01 L216.27 492.53 L221.97 502.63 L231.41 521.38 L240.49 539.62 L247.35 555.42 L252.25 555.42" fill="none" stroke="#141414" stroke-width="1.1" stroke-linejoin="miter"/>
<path d="M87.60 390.76 L123.54 450.35 L163.48 501.42 L201.82 532.28 L238.24 558.72 L253.20 558.72" fill="none" stroke="#141414" stroke-width="1.1" stroke-linejoin="miter"/>
<path d="M39.62 416.57 L104.85 419.80 L108.79 426.33 L41.38 423.59 Z" fill="none" stroke="#141414" stroke-width="1.1" stroke-linejoin="miter"/>
<path d="M108.91 420.00 L163.12 422.69 L168.89 428.78 L113.04 426.51 Z" fill="none" stroke="#141414" stroke-width="1.1" stroke-linejoin="miter"/>
<path d="M45.10 439.76 L118.90 443.09 L123.07 450.00 L46.86 446.68 Z" fill="none" stroke="#141414" stroke-width="1.1" stroke-linejoin="miter"/>
<path d="M123.69 443.30 L183.49 446.00 L188.94 452.88 L128.08 450.22 Z" fill="none" stroke="#141414" stroke-width="1.1" stroke-linejoin="miter"/>
<path d="M51.81 465.40 L137.98 469.14 L144.26 477.17 L53.78 472.85 Z" fill="none" stroke="#141414" stroke-width="1.1" stroke-linejoin="miter"/>
<path d="M143.28 469.37 L202.99 471.96 L208.44 480.23 L149.69 477.43 Z" fill="none" stroke="#141414" stroke-width="1.1" stroke-linejoin="miter"/>
<path d="M62.04 506.42 L176.14 511.82 L186.54 520.18 L63.21 513.87 Z" fill="none" stroke="#141414" stroke-width="1.1" stroke-linejoin="miter"/>
<path d="M183.26 512.15 L227.83 514.26 L231.97 522.51 L194.43 520.58 Z" fill="none" stroke="#141414" stroke-width="1.1" stroke-linejoin="miter"/>
<g font-family='"Liberation Sans", sans-serif' fill="#111">
<path d="M21.30 322.20 V615.80 H340.80" fill="none" stroke="#222" stroke-width="0.8"/>
<path d="M21.30 615.80 v-4" stroke="#333" stroke-width="0.6"/>
<text x="21.30" y="622.80" font-size="4.3" text-anchor="middle">0</text>
<path d="M74.55 615.80 v-4" stroke="#333" stroke-width="0.6"/>
<text x="74.55" y="622.80" font-size="4.3" text-anchor="middle">10</text>
<path d="M127.80 615.80 v-4" stroke="#333" stroke-width="0.6"/>
<text x="127.80" y="622.80" font-size="4.3" text-anchor="middle">20</text>
<path d="M181.05 615.80 v-4" stroke="#333" stroke-width="0.6"/>
<text x="181.05" y="622.80" font-size="4.3" text-anchor="middle">30</text>
<path d="M234.30 615.80 v-4" stroke="#333" stroke-width="0.6"/>
<text x="234.30" y="622.80" font-size="4.3" text-anchor="middle">40</text>
<path d="M287.55 615.80 v-4" stroke="#333" stroke-width="0.6"/>
<text x="287.55" y="622.80" font-size="4.3" text-anchor="middle">50</text>
<path d="M340.80 615.80 v-4" stroke="#333" stroke-width="0.6"/>
<text x="340.80" y="622.80" font-size="4.3" text-anchor="middle">60</text>
<path d="M21.30 615.80 h4" stroke="#555" stroke-width="0.6"/>
<text x="18.50" y="617.30" font-size="4.3" text-anchor="end">0</text>
<path d="M21.30 589.20 h4" stroke="#555" stroke-width="0.6"/>
<text x="18.50" y="590.70" font-size="4.3" text-anchor="end">5</text>
<path d="M21.30 562.60 h4" stroke="#555" stroke-width="0.6"/>
<text x="18.50" y="564.10" font-size="4.3" text-anchor="end">10</text>
<path d="M21.30 536.00 h4" stroke="#555" stroke-width="0.6"/>
<text x="18.50" y="537.50" font-size="4.3" text-anchor="end">15</text>
<path d="M21.30 509.40 h4" stroke="#555" stroke-width="0.6"/>
<text x="18.50" y="510.90" font-size="4.3" text-anchor="end">20</text>
<path d="M21.30 482.80 h4" stroke="#555" stroke-width="0.6"/>
<text x="18.50" y="484.30" font-size="4.3" text-anchor="end">25</text>
<path d="M21.30 456.20 h4" stroke="#555" stroke-width="0.6"/>
<text x="18.50" y="457.70" font-size="4.3" text-anchor="end">30</text>
<path d="M21.30 429.60 h4" stroke="#555" stroke-width="0.6"/>
<text x="18.50" y="431.10" font-size="4.3" text-anchor="end">35</text>
<path d="M21.30 403.00 h4" stroke="#555" stroke-width="0.6"/>
<text x="18.50" y="404.50" font-size="4.3" text-anchor="end">40</text>
<path d="M21.30 376.40 h4" stroke="#555" stroke-width="0.6"/>
<text x="18.50" y="377.90" font-size="4.3" text-anchor="end">45</text>
<path d="M21.30 349.80 h4" stroke="#555" stroke-width="0.6"/>
<text x="18.50" y="351.30" font-size="4.3" text-anchor="end">50</text>
<path d="M21.30 323.20 h4" stroke="#555" stroke-width="0.6"/>
<text x="18.50" y="324.70" font-size="4.3" text-anchor="end">55</text>
<text x="170.85" y="633.60" font-size="7.0" textLength="21.4" lengthAdjust="spacingAndGlyphs">Distance</text>
<text transform="translate(10.30 468.80) rotate(-90)" x="-11.6" font-size="7.0" textLength="23.2" lengthAdjust="spacingAndGlyphs">Elevation</text>
</g>
<g font-family='"Liberation Serif", serif' font-size="6.55" fill="#111" stroke="#111" stroke-width="0.12">
<text x="39.0" y="339.6">Runoff infiltration</text>
<text x="97.2" y="351.8">Sinkhole</text>
</g>
<path d="M102.6 354.5 L86.0 367.5" stroke="#111" stroke-width="0.75" fill="none"/>
<path d="M86.0 367.5 L87.9 364.5 L89.3 366.4 Z" fill="#111"/>
<g font-family='"Liberation Serif", serif' font-size="6.55" fill="#111" stroke="#111" stroke-width="0.12">
<text x="159.0" y="398.0">Slip surface</text>
</g>
<path d="M159.0 400.5 L104.0 416.0" stroke="#111" stroke-width="0.75" fill="none"/>
<path d="M104.0 416.0 L106.8 414.0 L107.5 416.3 Z" fill="#111"/>
<g font-family='"Liberation Serif", serif' font-size="6.55" fill="#111" stroke="#111" stroke-width="0.12">
<text x="184.0" y="429.0">Loess landslide</text>
</g>
<path d="M189.0 431.0 L171.0 440.0" stroke="#111" stroke-width="0.75" fill="none"/>
<path d="M171.0 440.0 L173.4 437.5 L174.5 439.6 Z" fill="#111"/>
<g font-family='"Liberation Serif", serif' font-size="6.55" fill="#111" stroke="#111" stroke-width="0.12">
<text x="69.0" y="461.5">Slip surface</text>
</g>
<path d="M102.5 457.5 L122.5 451.0" stroke="#111" stroke-width="0.75" fill="none"/>
<path d="M122.5 451.0 L119.7 453.2 L119.0 450.9 Z" fill="#111"/>
<g font-family='"Liberation Serif", serif' font-size="6.55" fill="#111" stroke="#111" stroke-width="0.12">
<text x="42.5" y="493.5">Gravel</text>
</g>
<path d="M62.5 490.0 L75.0 470.0" stroke="#111" stroke-width="0.75" fill="none"/>
<path d="M75.0 470.0 L74.3 473.4 L72.2 472.2 Z" fill="#111"/>
<g font-family='"Liberation Serif", serif' font-size="6.55" fill="#111" stroke="#111" stroke-width="0.12">
<text x="224.0" y="476.5">Surface freeze-thaw zone</text>
</g>
<path d="M245.0 479.0 L215.0 487.5" stroke="#111" stroke-width="0.75" fill="none"/>
<path d="M215.0 487.5 L217.8 485.5 L218.5 487.8 Z" fill="#111"/>
<g font-family='"Liberation Serif", serif' font-size="6.55" fill="#111" stroke="#111" stroke-width="0.12">
<text x="247.5" y="548.5">Landslide shear export</text>
</g>
<text x="177.5" y="358.0" font-family='"Liberation Serif", serif' font-weight="bold" font-size="18" fill="#111">(c)</text>
</g>
<path d="M45.0 342.0 L62.5 347.5" stroke="#3a6fd8" stroke-width="0.50" fill="none"/>
<path d="M62.5 347.5 L59.9 347.6 L60.4 345.9 Z" fill="#3a6fd8"/>
<path d="M250.0 556.6 L270.0 556.6" stroke="#3a6fd8" stroke-width="0.50" fill="none"/>
<path d="M270.0 556.6 L267.6 557.5 L267.6 555.7 Z" fill="#3a6fd8"/>
<g>
<rect x="250.3" y="333.5" width="67.3" height="103.0" fill="#fff" stroke="#c4c4c4" stroke-width="0.7"/>
<text x="256.4" y="346.2" font-family='"Liberation Serif", serif' font-size="6.41" fill="#111" stroke="#111" stroke-width="0.12">Pore water pressure</text>
<rect x="254.8" y="353.4" width="5.6" height="5.6" fill="#78b4fa" stroke="#6f8080" stroke-width="0.5"/>
<text x="263.2" y="358.8" font-family='"Liberation Sans", sans-serif' font-size="7.3" fill="#111" stroke="#111" stroke-width="0.1" textLength="47.9" lengthAdjust="spacingAndGlyphs">≤ -400 - -350 kPa</text>
<rect x="254.8" y="362.4" width="5.6" height="5.6" fill="#80ffff" stroke="#6f8080" stroke-width="0.5"/>
<text x="263.2" y="367.8" font-family='"Liberation Sans", sans-serif' font-size="7.3" fill="#111" stroke="#111" stroke-width="0.1" textLength="42.8" lengthAdjust="spacingAndGlyphs">-350 - -300 kPa</text>
<rect x="254.8" y="371.4" width="5.6" height="5.6" fill="#80ffd2" stroke="#6f8080" stroke-width="0.5"/>
<text x="263.2" y="376.8" font-family='"Liberation Sans", sans-serif' font-size="7.3" fill="#111" stroke="#111" stroke-width="0.1" textLength="42.8" lengthAdjust="spacingAndGlyphs">-300 - -250 kPa</text>
<rect x="254.8" y="380.4" width="5.6" height="5.6" fill="#80ff9a" stroke="#6f8080" stroke-width="0.5"/>
<text x="263.2" y="385.8" font-family='"Liberation Sans", sans-serif' font-size="7.3" fill="#111" stroke="#111" stroke-width="0.1" textLength="42.8" lengthAdjust="spacingAndGlyphs">-250 - -200 kPa</text>
<rect x="254.8" y="389.4" width="5.6" height="5.6" fill="#a0ff80" stroke="#6f8080" stroke-width="0.5"/>
<text x="263.2" y="394.8" font-family='"Liberation Sans", sans-serif' font-size="7.3" fill="#111" stroke="#111" stroke-width="0.1" textLength="42.8" lengthAdjust="spacingAndGlyphs">-200 - -150 kPa</text>
<rect x="254.8" y="398.4" width="5.6" height="5.6" fill="#d6ff80" stroke="#6f8080" stroke-width="0.5"/>
<text x="263.2" y="403.8" font-family='"Liberation Sans", sans-serif' font-size="7.3" fill="#111" stroke="#111" stroke-width="0.1" textLength="42.8" lengthAdjust="spacingAndGlyphs">-150 - -100 kPa</text>
<rect x="254.8" y="407.4" width="5.6" height="5.6" fill="#ffea80" stroke="#6f8080" stroke-width="0.5"/>
<text x="263.2" y="412.8" font-family='"Liberation Sans", sans-serif' font-size="7.3" fill="#111" stroke="#111" stroke-width="0.1" textLength="39.3" lengthAdjust="spacingAndGlyphs">-100 - -50 kPa</text>
<rect x="254.8" y="416.4" width="5.6" height="5.6" fill="#ffb480" stroke="#6f8080" stroke-width="0.5"/>
<text x="263.2" y="421.8" font-family='"Liberation Sans", sans-serif' font-size="7.3" fill="#111" stroke="#111" stroke-width="0.1" textLength="30.4" lengthAdjust="spacingAndGlyphs">-50 - 0 kPa</text>
<rect x="254.8" y="425.4" width="5.6" height="5.6" fill="#ff8080" stroke="#6f8080" stroke-width="0.5"/>
<text x="263.2" y="430.8" font-family='"Liberation Sans", sans-serif' font-size="7.3" fill="#111" stroke="#111" stroke-width="0.1" textLength="21.0" lengthAdjust="spacingAndGlyphs">≥ 0 kPa</text>
</g>
<g id="pd">
<clipPath id="csd"><path d="M359.80 341.52 L417.35 356.82 L425.54 393.21 L427.38 360.51 L439.00 368.16 L453.63 378.28 L465.40 386.88 L476.38 395.21 L486.52 403.76 L500.25 416.68 L511.07 428.55 L518.89 437.78 L532.19 454.76 L545.44 473.01 L557.27 491.57 L563.08 501.85 L572.48 520.52 L581.56 538.77 L588.79 556.44 L589.74 559.71 L600.04 581.60 L614.30 592.94 L646.24 607.28 L671.16 607.28 L672.11 616.30 L359.80 616.30 Z"/></clipPath>
<path d="M359.80 341.52 L417.35 356.82 L425.54 393.21 L427.38 360.51 L439.00 368.16 L453.63 378.28 L465.40 386.88 L476.38 395.21 L486.52 403.76 L500.25 416.68 L511.07 428.55 L518.89 437.78 L532.19 454.76 L545.44 473.01 L557.27 491.57 L563.08 501.85 L572.48 520.52 L581.56 538.77 L588.79 556.44 L589.74 559.71 L600.04 581.60 L614.30 592.94 L646.24 607.28 L671.16 607.28 L672.11 616.30 L359.80 616.30 Z" fill="#ff8080"/>
<path d="M349.24 558.81 L359.80 558.81 L536.68 574.11 L598.98 581.65 L676.60 582.02 L676.65 247.12 L349.24 247.12 Z" fill="#ffb480" clip-path="url(#csd)"/>
<path d="M349.24 532.07 L359.80 532.07 L512.39 545.10 L536.68 547.90 L565.72 550.90 L676.60 550.90 L676.65 247.12 L349.24 247.12 Z" fill="#ffea80" clip-path="url(#csd)"/>
<path d="M349.24 507.92 L359.80 507.92 L388.84 509.77 L399.40 515.04 L512.39 526.38 L526.12 527.17 L534.04 523.48 L563.08 522.95 L676.60 522.95 L676.65 247.12 L349.24 247.12 Z" fill="#d6ff80" clip-path="url(#csd)"/>
<path d="M349.24 484.45 L359.80 484.45 L512.39 496.58 L547.24 496.58 L676.60 496.58 L676.65 247.12 L349.24 247.12 Z" fill="#a0ff80" clip-path="url(#csd)"/>
<path d="M349.24 464.41 L359.80 464.41 L512.39 469.68 L539.32 471.26 L676.60 471.26 L676.65 247.12 L349.24 247.12 Z" fill="#80ff9a" clip-path="url(#csd)"/>
<path d="M349.24 440.15 L359.80 440.15 L512.39 445.42 L523.48 446.48 L676.60 446.48 L676.65 247.12 L349.24 247.12 Z" fill="#80ffd2" clip-path="url(#csd)"/>
<path d="M349.24 415.89 L359.80 415.89 L497.08 419.05 L502.36 424.85 L676.60 424.85 L676.65 247.12 L349.24 247.12 Z" fill="#80ffff" clip-path="url(#csd)"/>
<clipPath id="cld"><path d="M359.80 341.52 L417.35 356.82 L425.54 393.21 L412.23 362.09 L359.80 347.33 Z M425.54 393.21 L427.38 360.51 L439.00 368.16 L453.63 378.28 L465.40 386.88 L476.38 395.21 L486.52 403.76 L500.25 416.68 L511.07 428.55 L518.89 437.78 L532.19 454.76 L545.44 473.01 L557.27 491.57 L563.08 501.85 L572.48 520.52 L581.56 538.77 L588.79 556.44 L588.79 556.44 L583.94 556.44 L577.14 540.78 L568.13 522.69 L558.78 504.11 L553.13 494.10 L541.43 475.74 L528.31 457.68 L515.01 440.89 L507.17 431.98 L496.34 420.54 L482.62 408.08 L472.61 399.92 L461.67 391.88 L433.72 373.96 Z"/></clipPath>
<clipPath id="cLd"><path d="M349.24 247.12 L425.54 247.12 L425.54 393.21 L461.18 452.28 L500.78 502.91 L538.79 533.50 L349.24 537.19 Z"/></clipPath>
<clipPath id="cRd"><path d="M729.40 247.12 L425.54 247.12 L425.54 393.21 L461.18 452.28 L500.78 502.91 L538.79 533.50 L574.91 559.71 L589.74 559.71 L729.40 563.56 Z"/></clipPath>
<clipPath id="cid"><path clip-rule="evenodd" d="M359.80 341.52 L417.35 356.82 L425.54 393.21 L427.38 360.51 L439.00 368.16 L453.63 378.28 L465.40 386.88 L476.38 395.21 L486.52 403.76 L500.25 416.68 L511.07 428.55 L518.89 437.78 L532.19 454.76 L545.44 473.01 L557.27 491.57 L563.08 501.85 L572.48 520.52 L581.56 538.77 L588.79 556.44 L589.74 559.71 L600.04 581.60 L614.30 592.94 L646.24 607.28 L671.16 607.28 L672.11 616.30 L359.80 616.30 Z M359.80 341.52 L417.35 356.82 L425.54 393.21 L412.23 362.09 L359.80 347.33 Z M425.54 393.21 L427.38 360.51 L439.00 368.16 L453.63 378.28 L465.40 386.88 L476.38 395.21 L486.52 403.76 L500.25 416.68 L511.07 428.55 L518.89 437.78 L532.19 454.76 L545.44 473.01 L557.27 491.57 L563.08 501.85 L572.48 520.52 L581.56 538.77 L588.79 556.44 L588.79 556.44 L583.94 556.44 L577.14 540.78 L568.13 522.69 L558.78 504.11 L553.13 494.10 L541.43 475.74 L528.31 457.68 L515.01 440.89 L507.17 431.98 L496.34 420.54 L482.62 408.08 L472.61 399.92 L461.67 391.88 L433.72 373.96 Z"/></clipPath>
<path d="M354.52 388.46 L400.98 388.46 L401.51 378.97 L396.76 368.42 L386.20 361.57 L365.08 354.71 L354.52 352.60 Z" fill="#78b4fa" clip-path="url(#csd)" />
<path d="M354.52 350.49 L359.80 352.34 L386.20 360.51 L398.82 370.00 L403.84 376.33 L406.32 386.35 L410.75 396.90 L418.88 403.23 L428.97 405.34 L425.54 393.21 L412.23 362.09 L354.52 345.74 Z" fill="#80ff9a" clip-path="url(#cid)" />
<path d="M354.52 349.44 L359.80 351.28 L386.20 359.19 L400.69 369.21 L405.42 375.81 L407.90 385.83 L412.31 396.11 L420.15 402.07 L428.97 403.49 L425.54 393.21 L412.23 362.09 L354.52 345.74 Z" fill="#d6ff80" clip-path="url(#cid)" />
<path d="M354.52 348.38 L359.80 350.23 L386.20 357.87 L402.57 368.42 L407.00 375.28 L409.48 385.30 L413.87 395.32 L421.42 400.91 L428.97 401.65 L425.54 393.21 L412.23 362.09 L354.52 345.74 Z" fill="#ffea80" clip-path="url(#cid)" />
<path d="M354.52 347.33 L359.80 348.80 L390.00 357.35 L405.10 366.42 L409.48 373.91 L412.02 383.98 L416.40 392.79 L422.63 397.80 L427.70 397.80 L425.54 393.21 L412.23 362.09 L354.52 345.74 Z" fill="#ffb480" clip-path="url(#cid)" />
<path d="M397.55 357.98 L407.58 364.52 L412.02 372.69 L414.50 382.71 L418.88 390.20 L425.17 394.00 L425.54 393.21 L412.23 362.09 L354.52 345.74 Z" fill="#ff8080" clip-path="url(#cid)" />
<g clip-path="url(#cRd)">
<path d="M425.54 393.21 L433.72 373.96" fill="none" stroke="#80ff9a" stroke-width="13.20" stroke-linejoin="round" stroke-linecap="butt" clip-path="url(#cid)" />
<path d="M425.54 393.21 L433.72 373.96" fill="none" stroke="#d6ff80" stroke-width="8.98" stroke-linejoin="round" stroke-linecap="butt" clip-path="url(#cid)" />
<path d="M425.54 393.21 L433.72 373.96" fill="none" stroke="#ffea80" stroke-width="5.81" stroke-linejoin="round" stroke-linecap="butt" clip-path="url(#cid)" />
<path d="M425.54 393.21 L433.72 373.96" fill="none" stroke="#ffb480" stroke-width="2.96" stroke-linejoin="round" stroke-linecap="butt" clip-path="url(#cid)" />
</g>
<g clip-path="url(#cRd)">
<path d="M433.72 373.96 L461.67 391.88 L472.61 399.92 L482.62 408.08 L496.34 420.54 L507.17 431.98 L515.01 440.89 L528.31 457.68" fill="none" stroke="#80ff9a" stroke-width="19.54" stroke-linejoin="round" stroke-linecap="round" clip-path="url(#cid)" />
<path d="M433.72 373.96 L461.67 391.88 L472.61 399.92 L482.62 408.08 L496.34 420.54 L507.17 431.98 L515.01 440.89 L528.31 457.68" fill="none" stroke="#d6ff80" stroke-width="14.78" stroke-linejoin="round" stroke-linecap="round" clip-path="url(#cid)" />
<path d="M433.72 373.96 L461.67 391.88 L472.61 399.92 L482.62 408.08 L496.34 420.54 L507.17 431.98 L515.01 440.89 L528.31 457.68" fill="none" stroke="#ffea80" stroke-width="10.03" stroke-linejoin="round" stroke-linecap="round" clip-path="url(#cid)" />
<path d="M433.72 373.96 L461.67 391.88 L472.61 399.92 L482.62 408.08 L496.34 420.54 L507.17 431.98 L515.01 440.89 L528.31 457.68" fill="none" stroke="#ffb480" stroke-width="5.28" stroke-linejoin="round" stroke-linecap="round" clip-path="url(#cid)" />
</g>
<g clip-path="url(#cRd)">
<path d="M528.31 457.68 L541.43 475.74 L553.13 494.10 L558.78 504.11" fill="none" stroke="#d6ff80" stroke-width="11.62" stroke-linejoin="round" stroke-linecap="round" clip-path="url(#cid)" />
<path d="M528.31 457.68 L541.43 475.74 L553.13 494.10 L558.78 504.11" fill="none" stroke="#ffea80" stroke-width="7.92" stroke-linejoin="round" stroke-linecap="round" clip-path="url(#cid)" />
<path d="M528.31 457.68 L541.43 475.74 L553.13 494.10 L558.78 504.11" fill="none" stroke="#ffb480" stroke-width="3.70" stroke-linejoin="round" stroke-linecap="round" clip-path="url(#cid)" />
</g>
<g clip-path="url(#cRd)">
<path d="M558.78 504.11 L568.13 522.69 L577.14 540.78 L583.94 556.44 L588.79 556.44" fill="none" stroke="#ffea80" stroke-width="15.31" stroke-linejoin="round" stroke-linecap="butt" clip-path="url(#cid)" />
<path d="M558.78 504.11 L568.13 522.69 L577.14 540.78 L583.94 556.44 L588.79 556.44" fill="none" stroke="#ffb480" stroke-width="10.03" stroke-linejoin="round" stroke-linecap="butt" clip-path="url(#cid)" />
</g>
<path d="M359.80 341.52 L417.35 356.82 L425.54 393.21 L412.23 362.09 L359.80 347.33 Z" fill="#ff8080" clip-path="url(#csd)" />
<path d="M425.54 393.21 L427.38 360.51 L439.00 368.16 L453.63 378.28 L465.40 386.88 L476.38 395.21 L486.52 403.76 L500.25 416.68 L511.07 428.55 L518.89 437.78 L532.19 454.76 L545.44 473.01 L557.27 491.57 L563.08 501.85 L572.48 520.52 L581.56 538.77 L588.79 556.44 L588.79 556.44 L583.94 556.44 L577.14 540.78 L568.13 522.69 L558.78 504.11 L553.13 494.10 L541.43 475.74 L528.31 457.68 L515.01 440.89 L507.17 431.98 L496.34 420.54 L482.62 408.08 L472.61 399.92 L461.67 391.88 L433.72 373.96 Z" fill="#ff8080" clip-path="url(#csd)" />
<path d="M575.75 559.71 L572.58 551.96 L578.92 539.83 L587.90 539.83 L589.48 559.71 Z" fill="#ff8080" clip-path="url(#csd)" />
<path d="M359.80 341.52 L417.35 356.82 L425.54 393.21 L427.38 360.51 L439.00 368.16 L453.63 378.28 L465.40 386.88 L476.38 395.21 L486.52 403.76 L500.25 416.68 L511.07 428.55 L518.89 437.78 L532.19 454.76 L545.44 473.01 L557.27 491.57 L563.08 501.85 L572.48 520.52 L581.56 538.77 L588.79 556.44 L589.74 559.71 L600.04 581.60 L614.30 592.94 L646.24 607.28 L671.16 607.28 L672.11 616.30" fill="none" stroke="#141414" stroke-width="1.1" stroke-linejoin="miter"/>
<path d="M359.80 347.33 L412.23 362.09 L425.54 393.21" fill="none" stroke="#141414" stroke-width="1.1" stroke-linejoin="miter"/>
<path d="M425.54 393.21 L433.72 373.96 L461.67 391.88 L472.61 399.92 L482.62 408.08 L496.34 420.54 L507.17 431.98 L515.01 440.89 L528.31 457.68 L541.43 475.74 L553.13 494.10 L558.78 504.11 L568.13 522.69 L577.14 540.78 L583.94 556.44 L588.79 556.44" fill="none" stroke="#141414" stroke-width="1.1" stroke-linejoin="miter"/>
<path d="M425.54 393.21 L461.18 452.28 L500.78 502.91 L538.79 533.50 L574.91 559.71 L589.74 559.71" fill="none" stroke="#141414" stroke-width="1.1" stroke-linejoin="miter"/>
<path d="M377.96 418.79 L442.65 421.99 L446.55 428.47 L379.71 425.75 Z" fill="none" stroke="#141414" stroke-width="1.1" stroke-linejoin="miter"/>
<path d="M446.67 422.19 L500.43 424.86 L506.14 430.90 L450.76 428.64 Z" fill="none" stroke="#141414" stroke-width="1.1" stroke-linejoin="miter"/>
<path d="M383.40 441.78 L456.58 445.08 L460.71 451.94 L385.14 448.64 Z" fill="none" stroke="#141414" stroke-width="1.1" stroke-linejoin="miter"/>
<path d="M461.32 445.30 L520.62 447.97 L526.03 454.79 L465.67 452.15 Z" fill="none" stroke="#141414" stroke-width="1.1" stroke-linejoin="miter"/>
<path d="M390.05 467.20 L475.49 470.91 L481.72 478.86 L392.01 474.59 Z" fill="none" stroke="#141414" stroke-width="1.1" stroke-linejoin="miter"/>
<path d="M480.75 471.13 L539.95 473.70 L545.36 481.90 L487.10 479.12 Z" fill="none" stroke="#141414" stroke-width="1.1" stroke-linejoin="miter"/>
<path d="M400.19 507.87 L513.34 513.22 L523.64 521.51 L401.35 515.25 Z" fill="none" stroke="#141414" stroke-width="1.1" stroke-linejoin="miter"/>
<path d="M520.39 513.55 L564.58 515.64 L568.69 523.81 L531.47 521.91 Z" fill="none" stroke="#141414" stroke-width="1.1" stroke-linejoin="miter"/>
<g font-family='"Liberation Sans", sans-serif' fill="#111">
<path d="M359.80 325.23 V616.30 H676.60" fill="none" stroke="#222" stroke-width="0.8"/>
<path d="M359.80 616.30 v-4" stroke="#333" stroke-width="0.6"/>
<text x="359.80" y="623.30" font-size="4.3" text-anchor="middle">0</text>
<path d="M412.60 616.30 v-4" stroke="#333" stroke-width="0.6"/>
<text x="412.60" y="623.30" font-size="4.3" text-anchor="middle">10</text>
<path d="M465.40 616.30 v-4" stroke="#333" stroke-width="0.6"/>
<text x="465.40" y="623.30" font-size="4.3" text-anchor="middle">20</text>
<path d="M518.20 616.30 v-4" stroke="#333" stroke-width="0.6"/>
<text x="518.20" y="623.30" font-size="4.3" text-anchor="middle">30</text>
<path d="M571.00 616.30 v-4" stroke="#333" stroke-width="0.6"/>
<text x="571.00" y="623.30" font-size="4.3" text-anchor="middle">40</text>
<path d="M623.80 616.30 v-4" stroke="#333" stroke-width="0.6"/>
<text x="623.80" y="623.30" font-size="4.3" text-anchor="middle">50</text>
<path d="M676.60 616.30 v-4" stroke="#333" stroke-width="0.6"/>
<text x="676.60" y="623.30" font-size="4.3" text-anchor="middle">60</text>
<path d="M359.80 616.30 h4" stroke="#555" stroke-width="0.6"/>
<text x="357.00" y="617.80" font-size="4.3" text-anchor="end">0</text>
<path d="M359.80 589.93 h4" stroke="#555" stroke-width="0.6"/>
<text x="357.00" y="591.43" font-size="4.3" text-anchor="end">5</text>
<path d="M359.80 563.56 h4" stroke="#555" stroke-width="0.6"/>
<text x="357.00" y="565.06" font-size="4.3" text-anchor="end">10</text>
<path d="M359.80 537.19 h4" stroke="#555" stroke-width="0.6"/>
<text x="357.00" y="538.69" font-size="4.3" text-anchor="end">15</text>
<path d="M359.80 510.82 h4" stroke="#555" stroke-width="0.6"/>
<text x="357.00" y="512.32" font-size="4.3" text-anchor="end">20</text>
<path d="M359.80 484.45 h4" stroke="#555" stroke-width="0.6"/>
<text x="357.00" y="485.95" font-size="4.3" text-anchor="end">25</text>
<path d="M359.80 458.08 h4" stroke="#555" stroke-width="0.6"/>
<text x="357.00" y="459.58" font-size="4.3" text-anchor="end">30</text>
<path d="M359.80 431.71 h4" stroke="#555" stroke-width="0.6"/>
<text x="357.00" y="433.21" font-size="4.3" text-anchor="end">35</text>
<path d="M359.80 405.34 h4" stroke="#555" stroke-width="0.6"/>
<text x="357.00" y="406.84" font-size="4.3" text-anchor="end">40</text>
<path d="M359.80 378.97 h4" stroke="#555" stroke-width="0.6"/>
<text x="357.00" y="380.47" font-size="4.3" text-anchor="end">45</text>
<path d="M359.80 352.60 h4" stroke="#555" stroke-width="0.6"/>
<text x="357.00" y="354.10" font-size="4.3" text-anchor="end">50</text>
<path d="M359.80 326.23 h4" stroke="#555" stroke-width="0.6"/>
<text x="357.00" y="327.73" font-size="4.3" text-anchor="end">55</text>
<text x="508.00" y="634.10" font-size="7.0" textLength="21.4" lengthAdjust="spacingAndGlyphs">Distance</text>
<text transform="translate(348.80 470.56) rotate(-90)" x="-11.6" font-size="7.0" textLength="23.2" lengthAdjust="spacingAndGlyphs">Elevation</text>
</g>
<g font-family='"Liberation Serif", serif' font-size="6.55" fill="#111" stroke="#111" stroke-width="0.12">
<text x="377.0" y="342.5">Runoff infiltration</text>
<text x="434.4" y="354.5">Sinkhole</text>
</g>
<path d="M439.0 357.5 L422.0 370.0" stroke="#111" stroke-width="0.75" fill="none"/>
<path d="M422.0 370.0 L423.9 367.1 L425.4 369.0 Z" fill="#111"/>
<g font-family='"Liberation Serif", serif' font-size="6.55" fill="#111" stroke="#111" stroke-width="0.12">
<text x="496.8" y="400.5">Slip surface</text>
</g>
<path d="M497.0 402.5 L440.5 419.0" stroke="#111" stroke-width="0.75" fill="none"/>
<path d="M440.5 419.0 L443.3 416.9 L444.0 419.2 Z" fill="#111"/>
<g font-family='"Liberation Serif", serif' font-size="6.55" fill="#111" stroke="#111" stroke-width="0.12">
<text x="521.0" y="430.5">Loess landslide</text>
</g>
<path d="M527.0 432.5 L508.0 442.5" stroke="#111" stroke-width="0.75" fill="none"/>
<path d="M508.0 442.5 L510.4 439.9 L511.5 442.0 Z" fill="#111"/>
<g font-family='"Liberation Serif", serif' font-size="6.55" fill="#111" stroke="#111" stroke-width="0.12">
<text x="406.5" y="463.0">Slip surface</text>
</g>
<path d="M440.5 460.0 L460.5 452.5" stroke="#111" stroke-width="0.75" fill="none"/>
<path d="M460.5 452.5 L457.8 454.8 L457.0 452.5 Z" fill="#111"/>
<g font-family='"Liberation Serif", serif' font-size="6.55" fill="#111" stroke="#111" stroke-width="0.12">
<text x="380.5" y="496.5">Gravel</text>
</g>
<path d="M399.5 493.5 L413.0 472.5" stroke="#111" stroke-width="0.75" fill="none"/>
<path d="M413.0 472.5 L412.2 475.9 L410.2 474.6 Z" fill="#111"/>
<g font-family='"Liberation Serif", serif' font-size="6.55" fill="#111" stroke="#111" stroke-width="0.12">
<text x="561.0" y="479.0">Surface freeze-thaw zone</text>
</g>
<path d="M581.5 481.0 L550.0 491.0" stroke="#111" stroke-width="0.75" fill="none"/>
<path d="M550.0 491.0 L552.8 488.9 L553.5 491.1 Z" fill="#111"/>
<g font-family='"Liberation Serif", serif' font-size="6.55" fill="#111" stroke="#111" stroke-width="0.12">
<text x="585.0" y="550.5">Landslide shear export</text>
</g>
<text x="520.0" y="358.5" font-family='"Liberation Serif", serif' font-weight="bold" font-size="18" fill="#111">(d)</text>
</g>
<path d="M387.0 346.5 L402.0 351.0" stroke="#3a6fd8" stroke-width="0.50" fill="none"/>
<path d="M402.0 351.0 L399.4 351.1 L399.9 349.4 Z" fill="#3a6fd8"/>
<path d="M587.5 557.5 L607.5 557.5" stroke="#3a6fd8" stroke-width="0.50" fill="none"/>
<path d="M607.5 557.5 L605.1 558.4 L605.1 556.6 Z" fill="#3a6fd8"/>
<g>
<rect x="587.2" y="336.3" width="66.7" height="102.4" fill="#fff" stroke="#c4c4c4" stroke-width="0.7"/>
<text x="593.3" y="348.9" font-family='"Liberation Serif", serif' font-size="6.36" fill="#111" stroke="#111" stroke-width="0.12">Pore water pressure</text>
<rect x="591.7" y="356.0" width="5.6" height="5.6" fill="#78b4fa" stroke="#6f8080" stroke-width="0.5"/>
<text x="600.1" y="361.4" font-family='"Liberation Sans", sans-serif' font-size="7.3" fill="#111" stroke="#111" stroke-width="0.1" textLength="47.9" lengthAdjust="spacingAndGlyphs">≤ -400 - -350 kPa</text>
<rect x="591.7" y="364.9" width="5.6" height="5.6" fill="#80ffff" stroke="#6f8080" stroke-width="0.5"/>
<text x="600.1" y="370.3" font-family='"Liberation Sans", sans-serif' font-size="7.3" fill="#111" stroke="#111" stroke-width="0.1" textLength="42.8" lengthAdjust="spacingAndGlyphs">-350 - -300 kPa</text>
<rect x="591.7" y="373.8" width="5.6" height="5.6" fill="#80ffd2" stroke="#6f8080" stroke-width="0.5"/>
<text x="600.1" y="379.2" font-family='"Liberation Sans", sans-serif' font-size="7.3" fill="#111" stroke="#111" stroke-width="0.1" textLength="42.8" lengthAdjust="spacingAndGlyphs">-300 - -250 kPa</text>
<rect x="591.7" y="382.6" width="5.6" height="5.6" fill="#80ff9a" stroke="#6f8080" stroke-width="0.5"/>
<text x="600.1" y="388.0" font-family='"Liberation Sans", sans-serif' font-size="7.3" fill="#111" stroke="#111" stroke-width="0.1" textLength="42.8" lengthAdjust="spacingAndGlyphs">-250 - -200 kPa</text>
<rect x="591.7" y="391.5" width="5.6" height="5.6" fill="#a0ff80" stroke="#6f8080" stroke-width="0.5"/>
<text x="600.1" y="396.9" font-family='"Liberation Sans", sans-serif' font-size="7.3" fill="#111" stroke="#111" stroke-width="0.1" textLength="42.8" lengthAdjust="spacingAndGlyphs">-200 - -150 kPa</text>
<rect x="591.7" y="400.4" width="5.6" height="5.6" fill="#d6ff80" stroke="#6f8080" stroke-width="0.5"/>
<text x="600.1" y="405.8" font-family='"Liberation Sans", sans-serif' font-size="7.3" fill="#111" stroke="#111" stroke-width="0.1" textLength="42.8" lengthAdjust="spacingAndGlyphs">-150 - -100 kPa</text>
<rect x="591.7" y="409.3" width="5.6" height="5.6" fill="#ffea80" stroke="#6f8080" stroke-width="0.5"/>
<text x="600.1" y="414.7" font-family='"Liberation Sans", sans-serif' font-size="7.3" fill="#111" stroke="#111" stroke-width="0.1" textLength="39.3" lengthAdjust="spacingAndGlyphs">-100 - -50 kPa</text>
<rect x="591.7" y="418.2" width="5.6" height="5.6" fill="#ffb480" stroke="#6f8080" stroke-width="0.5"/>
<text x="600.1" y="423.6" font-family='"Liberation Sans", sans-serif' font-size="7.3" fill="#111" stroke="#111" stroke-width="0.1" textLength="30.4" lengthAdjust="spacingAndGlyphs">-50 - 0 kPa</text>
<rect x="591.7" y="427.0" width="5.6" height="5.6" fill="#ff8080" stroke="#6f8080" stroke-width="0.5"/>
<text x="600.1" y="432.4" font-family='"Liberation Sans", sans-serif' font-size="7.3" fill="#111" stroke="#111" stroke-width="0.1" textLength="21.0" lengthAdjust="spacingAndGlyphs">≥ 0 kPa</text>
</g>
</g>
</svg></body></html>
